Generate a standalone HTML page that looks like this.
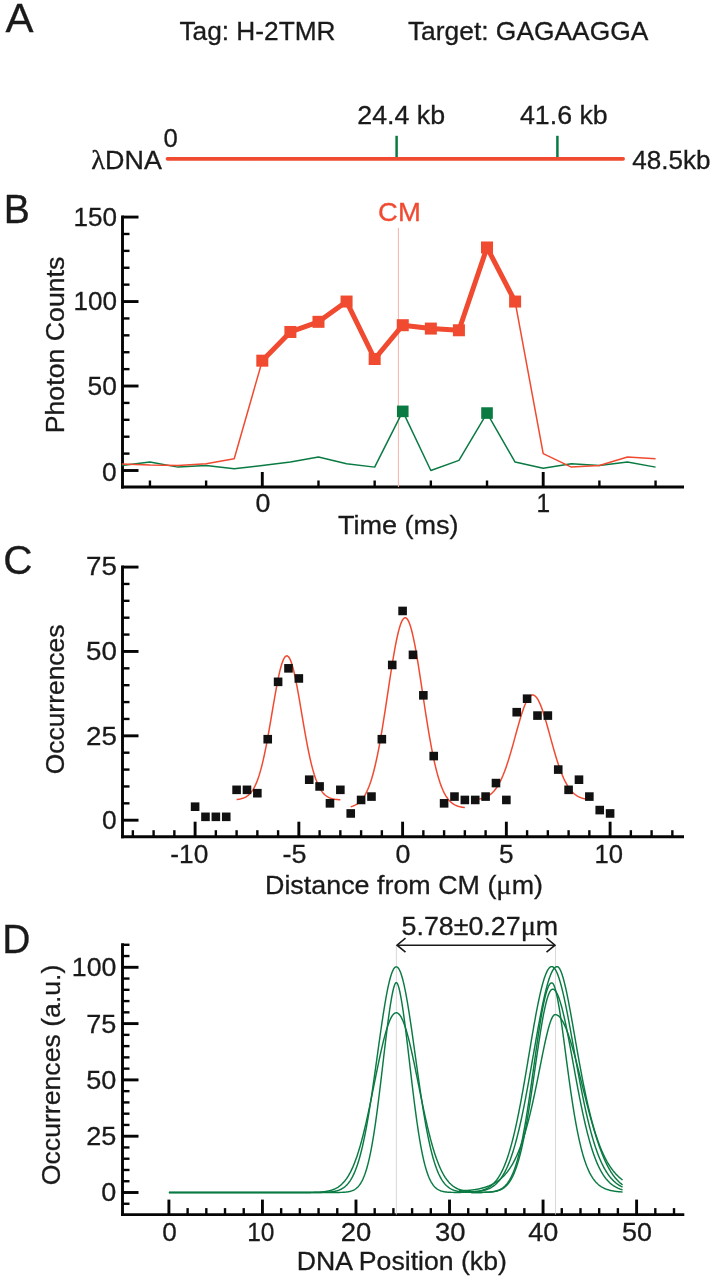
<!DOCTYPE html>
<html><head><meta charset="utf-8"><title>Figure</title>
<style>html,body{margin:0;padding:0;background:#fff}svg{display:block}</style></head>
<body>
<svg width="714" height="1280" viewBox="0 0 714 1280" font-family='"Liberation Sans", Arial, Helvetica, sans-serif'>
<rect width="714" height="1280" fill="#fff"/>
<line x1="167.50" y1="158.80" x2="623.10" y2="158.80" stroke="#F04A30" stroke-width="3.7" stroke-linecap="round"/>
<line x1="396.60" y1="135.80" x2="396.60" y2="157.00" stroke="#0A7A43" stroke-width="2.5" stroke-linecap="butt"/>
<line x1="557.40" y1="135.80" x2="557.40" y2="157.00" stroke="#0A7A43" stroke-width="2.5" stroke-linecap="butt"/>
<line x1="122.50" y1="215.62" x2="122.50" y2="488.45" stroke="#050505" stroke-width="2.9" stroke-linecap="butt"/>
<line x1="121.05" y1="487.00" x2="684.00" y2="487.00" stroke="#050505" stroke-width="2.9" stroke-linecap="butt"/>
<line x1="122.50" y1="470.50" x2="138.50" y2="470.50" stroke="#050505" stroke-width="2.9" stroke-linecap="butt"/>
<line x1="122.50" y1="453.61" x2="129.50" y2="453.61" stroke="#050505" stroke-width="2.4" stroke-linecap="butt"/>
<line x1="122.50" y1="436.71" x2="129.50" y2="436.71" stroke="#050505" stroke-width="2.4" stroke-linecap="butt"/>
<line x1="122.50" y1="419.81" x2="129.50" y2="419.81" stroke="#050505" stroke-width="2.4" stroke-linecap="butt"/>
<line x1="122.50" y1="402.92" x2="129.50" y2="402.92" stroke="#050505" stroke-width="2.4" stroke-linecap="butt"/>
<line x1="122.50" y1="386.02" x2="138.50" y2="386.02" stroke="#050505" stroke-width="2.9" stroke-linecap="butt"/>
<line x1="122.50" y1="369.13" x2="129.50" y2="369.13" stroke="#050505" stroke-width="2.4" stroke-linecap="butt"/>
<line x1="122.50" y1="352.24" x2="129.50" y2="352.24" stroke="#050505" stroke-width="2.4" stroke-linecap="butt"/>
<line x1="122.50" y1="335.34" x2="129.50" y2="335.34" stroke="#050505" stroke-width="2.4" stroke-linecap="butt"/>
<line x1="122.50" y1="318.44" x2="129.50" y2="318.44" stroke="#050505" stroke-width="2.4" stroke-linecap="butt"/>
<line x1="122.50" y1="301.55" x2="138.50" y2="301.55" stroke="#050505" stroke-width="2.9" stroke-linecap="butt"/>
<line x1="122.50" y1="284.65" x2="129.50" y2="284.65" stroke="#050505" stroke-width="2.4" stroke-linecap="butt"/>
<line x1="122.50" y1="267.76" x2="129.50" y2="267.76" stroke="#050505" stroke-width="2.4" stroke-linecap="butt"/>
<line x1="122.50" y1="250.87" x2="129.50" y2="250.87" stroke="#050505" stroke-width="2.4" stroke-linecap="butt"/>
<line x1="122.50" y1="233.97" x2="129.50" y2="233.97" stroke="#050505" stroke-width="2.4" stroke-linecap="butt"/>
<line x1="122.50" y1="217.07" x2="138.50" y2="217.07" stroke="#050505" stroke-width="2.9" stroke-linecap="butt"/>
<line x1="149.94" y1="487.00" x2="149.94" y2="480.50" stroke="#050505" stroke-width="2.4" stroke-linecap="butt"/>
<line x1="206.12" y1="487.00" x2="206.12" y2="480.50" stroke="#050505" stroke-width="2.4" stroke-linecap="butt"/>
<line x1="262.30" y1="487.00" x2="262.30" y2="472.00" stroke="#050505" stroke-width="2.9" stroke-linecap="butt"/>
<line x1="318.48" y1="487.00" x2="318.48" y2="480.50" stroke="#050505" stroke-width="2.4" stroke-linecap="butt"/>
<line x1="374.66" y1="487.00" x2="374.66" y2="480.50" stroke="#050505" stroke-width="2.4" stroke-linecap="butt"/>
<line x1="430.84" y1="487.00" x2="430.84" y2="480.50" stroke="#050505" stroke-width="2.4" stroke-linecap="butt"/>
<line x1="487.02" y1="487.00" x2="487.02" y2="480.50" stroke="#050505" stroke-width="2.4" stroke-linecap="butt"/>
<line x1="543.20" y1="487.00" x2="543.20" y2="472.00" stroke="#050505" stroke-width="2.9" stroke-linecap="butt"/>
<line x1="599.38" y1="487.00" x2="599.38" y2="480.50" stroke="#050505" stroke-width="2.4" stroke-linecap="butt"/>
<line x1="655.56" y1="487.00" x2="655.56" y2="480.50" stroke="#050505" stroke-width="2.4" stroke-linecap="butt"/>
<line x1="398.40" y1="227.80" x2="398.40" y2="487.00" stroke="#F6B5A8" stroke-width="1.0" stroke-linecap="butt"/>
<path d="M121.85,465.43 L149.94,462.05 L178.03,467.12 L206.12,465.43 L234.21,468.81 L262.30,465.43 L290.39,462.05 L318.48,456.98 L346.57,463.74 L374.66,467.12 L402.75,411.37 L430.84,470.50 L458.93,460.36 L487.02,413.06 L515.11,462.05 L543.20,468.30 L571.29,463.74 L599.38,465.43 L627.47,462.05 L655.56,467.12" fill="none" stroke="#0A7A43" stroke-width="1.5" stroke-linejoin="round" />
<path d="M121.85,463.91 L149.94,465.09 L178.03,465.43 L206.12,463.74 L234.21,458.67 L262.30,360.68 L290.39,331.96 L318.48,321.82 L346.57,301.55 L374.66,358.99 L402.75,325.20 L430.84,328.58 L458.93,330.27 L487.02,247.49 L515.11,301.55 L543.20,453.61 L571.29,467.12 L599.38,465.43 L627.47,456.98 L655.56,458.67" fill="none" stroke="#F04A30" stroke-width="1.5" stroke-linejoin="round" />
<path d="M262.30,360.68 L290.39,331.96 L318.48,321.82 L346.57,301.55 L374.66,358.99 L402.75,325.20 L430.84,328.58 L458.93,330.27 L487.02,247.49 L515.11,301.55" fill="none" stroke="#F04A30" stroke-width="5" stroke-linejoin="round" />
<rect x="256.30" y="354.68" width="12" height="12" fill="#F04A30"/>
<rect x="284.39" y="325.96" width="12" height="12" fill="#F04A30"/>
<rect x="312.48" y="315.82" width="12" height="12" fill="#F04A30"/>
<rect x="340.57" y="295.55" width="12" height="12" fill="#F04A30"/>
<rect x="368.66" y="352.99" width="12" height="12" fill="#F04A30"/>
<rect x="396.75" y="319.20" width="12" height="12" fill="#F04A30"/>
<rect x="424.84" y="322.58" width="12" height="12" fill="#F04A30"/>
<rect x="452.93" y="324.27" width="12" height="12" fill="#F04A30"/>
<rect x="481.02" y="241.49" width="12" height="12" fill="#F04A30"/>
<rect x="509.11" y="295.55" width="12" height="12" fill="#F04A30"/>
<rect x="396.95" y="405.57" width="11.6" height="11.6" fill="#0A7A43"/>
<rect x="481.22" y="407.26" width="11.6" height="11.6" fill="#0A7A43"/>
<line x1="122.50" y1="565.62" x2="122.50" y2="838.15" stroke="#050505" stroke-width="2.9" stroke-linecap="butt"/>
<line x1="121.05" y1="836.70" x2="684.00" y2="836.70" stroke="#050505" stroke-width="2.9" stroke-linecap="butt"/>
<line x1="122.50" y1="820.20" x2="138.50" y2="820.20" stroke="#050505" stroke-width="2.9" stroke-linecap="butt"/>
<line x1="122.50" y1="803.33" x2="129.50" y2="803.33" stroke="#050505" stroke-width="2.4" stroke-linecap="butt"/>
<line x1="122.50" y1="786.45" x2="129.50" y2="786.45" stroke="#050505" stroke-width="2.4" stroke-linecap="butt"/>
<line x1="122.50" y1="769.58" x2="129.50" y2="769.58" stroke="#050505" stroke-width="2.4" stroke-linecap="butt"/>
<line x1="122.50" y1="752.70" x2="129.50" y2="752.70" stroke="#050505" stroke-width="2.4" stroke-linecap="butt"/>
<line x1="122.50" y1="735.83" x2="138.50" y2="735.83" stroke="#050505" stroke-width="2.9" stroke-linecap="butt"/>
<line x1="122.50" y1="718.95" x2="129.50" y2="718.95" stroke="#050505" stroke-width="2.4" stroke-linecap="butt"/>
<line x1="122.50" y1="702.08" x2="129.50" y2="702.08" stroke="#050505" stroke-width="2.4" stroke-linecap="butt"/>
<line x1="122.50" y1="685.20" x2="129.50" y2="685.20" stroke="#050505" stroke-width="2.4" stroke-linecap="butt"/>
<line x1="122.50" y1="668.33" x2="129.50" y2="668.33" stroke="#050505" stroke-width="2.4" stroke-linecap="butt"/>
<line x1="122.50" y1="651.45" x2="138.50" y2="651.45" stroke="#050505" stroke-width="2.9" stroke-linecap="butt"/>
<line x1="122.50" y1="634.58" x2="129.50" y2="634.58" stroke="#050505" stroke-width="2.4" stroke-linecap="butt"/>
<line x1="122.50" y1="617.70" x2="129.50" y2="617.70" stroke="#050505" stroke-width="2.4" stroke-linecap="butt"/>
<line x1="122.50" y1="600.83" x2="129.50" y2="600.83" stroke="#050505" stroke-width="2.4" stroke-linecap="butt"/>
<line x1="122.50" y1="583.95" x2="129.50" y2="583.95" stroke="#050505" stroke-width="2.4" stroke-linecap="butt"/>
<line x1="122.50" y1="567.08" x2="138.50" y2="567.08" stroke="#050505" stroke-width="2.9" stroke-linecap="butt"/>
<line x1="132.85" y1="836.70" x2="132.85" y2="830.20" stroke="#050505" stroke-width="2.4" stroke-linecap="butt"/>
<line x1="153.60" y1="836.70" x2="153.60" y2="830.20" stroke="#050505" stroke-width="2.4" stroke-linecap="butt"/>
<line x1="174.35" y1="836.70" x2="174.35" y2="830.20" stroke="#050505" stroke-width="2.4" stroke-linecap="butt"/>
<line x1="195.10" y1="836.70" x2="195.10" y2="821.70" stroke="#050505" stroke-width="2.9" stroke-linecap="butt"/>
<line x1="215.85" y1="836.70" x2="215.85" y2="830.20" stroke="#050505" stroke-width="2.4" stroke-linecap="butt"/>
<line x1="236.60" y1="836.70" x2="236.60" y2="830.20" stroke="#050505" stroke-width="2.4" stroke-linecap="butt"/>
<line x1="257.35" y1="836.70" x2="257.35" y2="830.20" stroke="#050505" stroke-width="2.4" stroke-linecap="butt"/>
<line x1="278.10" y1="836.70" x2="278.10" y2="830.20" stroke="#050505" stroke-width="2.4" stroke-linecap="butt"/>
<line x1="298.85" y1="836.70" x2="298.85" y2="821.70" stroke="#050505" stroke-width="2.9" stroke-linecap="butt"/>
<line x1="319.60" y1="836.70" x2="319.60" y2="830.20" stroke="#050505" stroke-width="2.4" stroke-linecap="butt"/>
<line x1="340.35" y1="836.70" x2="340.35" y2="830.20" stroke="#050505" stroke-width="2.4" stroke-linecap="butt"/>
<line x1="361.10" y1="836.70" x2="361.10" y2="830.20" stroke="#050505" stroke-width="2.4" stroke-linecap="butt"/>
<line x1="381.85" y1="836.70" x2="381.85" y2="830.20" stroke="#050505" stroke-width="2.4" stroke-linecap="butt"/>
<line x1="402.60" y1="836.70" x2="402.60" y2="821.70" stroke="#050505" stroke-width="2.9" stroke-linecap="butt"/>
<line x1="423.35" y1="836.70" x2="423.35" y2="830.20" stroke="#050505" stroke-width="2.4" stroke-linecap="butt"/>
<line x1="444.10" y1="836.70" x2="444.10" y2="830.20" stroke="#050505" stroke-width="2.4" stroke-linecap="butt"/>
<line x1="464.85" y1="836.70" x2="464.85" y2="830.20" stroke="#050505" stroke-width="2.4" stroke-linecap="butt"/>
<line x1="485.60" y1="836.70" x2="485.60" y2="830.20" stroke="#050505" stroke-width="2.4" stroke-linecap="butt"/>
<line x1="506.35" y1="836.70" x2="506.35" y2="821.70" stroke="#050505" stroke-width="2.9" stroke-linecap="butt"/>
<line x1="527.10" y1="836.70" x2="527.10" y2="830.20" stroke="#050505" stroke-width="2.4" stroke-linecap="butt"/>
<line x1="547.85" y1="836.70" x2="547.85" y2="830.20" stroke="#050505" stroke-width="2.4" stroke-linecap="butt"/>
<line x1="568.60" y1="836.70" x2="568.60" y2="830.20" stroke="#050505" stroke-width="2.4" stroke-linecap="butt"/>
<line x1="589.35" y1="836.70" x2="589.35" y2="830.20" stroke="#050505" stroke-width="2.4" stroke-linecap="butt"/>
<line x1="610.10" y1="836.70" x2="610.10" y2="821.70" stroke="#050505" stroke-width="2.9" stroke-linecap="butt"/>
<line x1="630.85" y1="836.70" x2="630.85" y2="830.20" stroke="#050505" stroke-width="2.4" stroke-linecap="butt"/>
<line x1="651.60" y1="836.70" x2="651.60" y2="830.20" stroke="#050505" stroke-width="2.4" stroke-linecap="butt"/>
<line x1="672.35" y1="836.70" x2="672.35" y2="830.20" stroke="#050505" stroke-width="2.4" stroke-linecap="butt"/>
<path d="M236.60,799.52 L237.46,799.42 L238.33,799.31 L239.19,799.17 L240.06,799.01 L240.92,798.82 L241.79,798.60 L242.65,798.34 L243.52,798.03 L244.38,797.67 L245.25,797.26 L246.11,796.78 L246.98,796.23 L247.84,795.60 L248.70,794.87 L249.57,794.05 L250.43,793.12 L251.30,792.07 L252.16,790.89 L253.03,789.56 L253.89,788.09 L254.76,786.45 L255.62,784.63 L256.49,782.64 L257.35,780.45 L258.21,778.06 L259.08,775.46 L259.94,772.64 L260.81,769.61 L261.67,766.35 L262.54,762.88 L263.40,759.19 L264.27,755.28 L265.13,751.16 L266.00,746.85 L266.86,742.36 L267.73,737.70 L268.59,732.90 L269.45,727.98 L270.32,722.96 L271.18,717.87 L272.05,712.75 L272.91,707.62 L273.78,702.53 L274.64,697.52 L275.51,692.61 L276.37,687.86 L277.24,683.30 L278.10,678.97 L278.96,674.91 L279.83,671.16 L280.69,667.76 L281.56,664.73 L282.42,662.10 L283.29,659.91 L284.15,658.17 L285.02,656.91 L285.88,656.13 L286.75,655.84 L287.61,656.05 L288.48,656.75 L289.34,657.94 L290.20,659.60 L291.07,661.72 L291.93,664.28 L292.80,667.24 L293.66,670.59 L294.53,674.29 L295.39,678.30 L296.26,682.59 L297.12,687.12 L297.99,691.84 L298.85,696.72 L299.71,701.72 L300.58,706.80 L301.44,711.93 L302.31,717.05 L303.17,722.15 L304.04,727.18 L304.90,732.12 L305.77,736.95 L306.63,741.63 L307.50,746.15 L308.36,750.49 L309.23,754.63 L310.09,758.57 L310.95,762.30 L311.82,765.81 L312.68,769.10 L313.55,772.17 L314.41,775.02 L315.28,777.65 L316.14,780.08 L317.01,782.30 L317.87,784.33 L318.74,786.17 L319.60,787.83 L320.46,789.34 L321.33,790.68 L322.19,791.89 L323.06,792.96 L323.92,793.91 L324.79,794.75 L325.65,795.49 L326.52,796.13 L327.38,796.70 L328.25,797.19 L329.11,797.61 L329.98,797.98 L330.84,798.29 L331.70,798.56 L332.57,798.79 L333.43,798.99 L334.30,799.15 L335.16,799.29 L336.03,799.41 L336.89,799.50 L337.76,799.58 L338.62,799.65 L339.49,799.71 L340.35,799.75" fill="none" stroke="#F04A30" stroke-width="1.5" stroke-linejoin="round" />
<path d="M350.73,806.67 L351.68,806.42 L352.63,806.12 L353.58,805.77 L354.53,805.38 L355.48,804.92 L356.43,804.39 L357.38,803.78 L358.33,803.10 L359.28,802.31 L360.24,801.43 L361.19,800.43 L362.14,799.30 L363.09,798.04 L364.04,796.64 L364.99,795.07 L365.94,793.34 L366.89,791.42 L367.84,789.31 L368.79,786.99 L369.75,784.46 L370.70,781.70 L371.65,778.71 L372.60,775.47 L373.55,771.99 L374.50,768.26 L375.45,764.27 L376.40,760.03 L377.35,755.54 L378.31,750.79 L379.26,745.81 L380.21,740.59 L381.16,735.16 L382.11,729.52 L383.06,723.71 L384.01,717.73 L384.96,711.62 L385.91,705.41 L386.86,699.13 L387.82,692.80 L388.77,686.48 L389.72,680.19 L390.67,673.99 L391.62,667.90 L392.57,661.98 L393.52,656.26 L394.47,650.79 L395.42,645.62 L396.38,640.77 L397.33,636.30 L398.28,632.25 L399.23,628.63 L400.18,625.49 L401.13,622.85 L402.08,620.74 L403.03,619.17 L403.98,618.16 L404.93,617.72 L405.89,617.85 L406.84,618.55 L407.79,619.82 L408.74,621.63 L409.69,623.99 L410.64,626.86 L411.59,630.22 L412.54,634.04 L413.49,638.29 L414.44,642.93 L415.40,647.93 L416.35,653.24 L417.30,658.83 L418.25,664.65 L419.20,670.65 L420.15,676.80 L421.10,683.04 L422.05,689.35 L423.00,695.68 L423.96,701.99 L424.91,708.25 L425.86,714.42 L426.81,720.47 L427.76,726.37 L428.71,732.11 L429.66,737.65 L430.61,742.99 L431.56,748.10 L432.51,752.98 L433.47,757.61 L434.42,761.99 L435.37,766.12 L436.32,769.99 L437.27,773.61 L438.22,776.97 L439.17,780.10 L440.12,782.98 L441.07,785.63 L442.03,788.07 L442.98,790.29 L443.93,792.31 L444.88,794.15 L445.83,795.80 L446.78,797.30 L447.73,798.63 L448.68,799.83 L449.63,800.90 L450.58,801.84 L451.54,802.68 L452.49,803.42 L453.44,804.07 L454.39,804.64 L455.34,805.13 L456.29,805.56 L457.24,805.94 L458.19,806.26 L459.14,806.54 L460.09,806.78 L461.05,806.98 L462.00,807.16 L462.95,807.30 L463.90,807.43 L464.85,807.54" fill="none" stroke="#F04A30" stroke-width="1.5" stroke-linejoin="round" />
<path d="M475.23,799.49 L476.18,799.40 L477.13,799.30 L478.08,799.18 L479.03,799.03 L479.98,798.87 L480.93,798.68 L481.88,798.45 L482.83,798.20 L483.78,797.91 L484.74,797.57 L485.69,797.19 L486.64,796.76 L487.59,796.27 L488.54,795.71 L489.49,795.09 L490.44,794.40 L491.39,793.62 L492.34,792.76 L493.29,791.80 L494.25,790.75 L495.20,789.58 L496.15,788.31 L497.10,786.92 L498.05,785.40 L499.00,783.76 L499.95,781.99 L500.90,780.08 L501.85,778.03 L502.81,775.84 L503.76,773.52 L504.71,771.05 L505.66,768.45 L506.61,765.72 L507.56,762.86 L508.51,759.89 L509.46,756.80 L510.41,753.61 L511.36,750.34 L512.32,746.99 L513.27,743.58 L514.22,740.14 L515.17,736.67 L516.12,733.19 L517.07,729.74 L518.02,726.33 L518.97,722.98 L519.92,719.72 L520.88,716.57 L521.83,713.56 L522.78,710.70 L523.73,708.02 L524.68,705.54 L525.63,703.28 L526.58,701.26 L527.53,699.51 L528.48,698.02 L529.43,696.82 L530.39,695.91 L531.34,695.31 L532.29,695.02 L533.24,695.04 L534.19,695.37 L535.14,696.01 L536.09,696.95 L537.04,698.19 L537.99,699.71 L538.94,701.51 L539.90,703.56 L540.85,705.84 L541.80,708.35 L542.75,711.05 L543.70,713.93 L544.65,716.97 L545.60,720.13 L546.55,723.41 L547.50,726.76 L548.46,730.18 L549.41,733.64 L550.36,737.11 L551.31,740.58 L552.26,744.02 L553.21,747.42 L554.16,750.76 L555.11,754.02 L556.06,757.20 L557.01,760.27 L557.97,763.23 L558.92,766.08 L559.87,768.79 L560.82,771.37 L561.77,773.82 L562.72,776.13 L563.67,778.30 L564.62,780.33 L565.57,782.22 L566.53,783.98 L567.48,785.60 L568.43,787.10 L569.38,788.48 L570.33,789.74 L571.28,790.89 L572.23,791.93 L573.18,792.87 L574.13,793.72 L575.08,794.49 L576.04,795.18 L576.99,795.79 L577.94,796.33 L578.89,796.81 L579.84,797.24 L580.79,797.62 L581.74,797.94 L582.69,798.23 L583.64,798.48 L584.59,798.70 L585.55,798.89 L586.50,799.05 L587.45,799.19 L588.40,799.31 L589.35,799.42" fill="none" stroke="#F04A30" stroke-width="1.5" stroke-linejoin="round" />
<rect x="190.80" y="802.40" width="8.6" height="8.6" fill="#111"/>
<rect x="201.18" y="812.53" width="8.6" height="8.6" fill="#111"/>
<rect x="211.55" y="812.53" width="8.6" height="8.6" fill="#111"/>
<rect x="221.93" y="812.53" width="8.6" height="8.6" fill="#111"/>
<rect x="232.30" y="785.53" width="8.6" height="8.6" fill="#111"/>
<rect x="242.68" y="785.53" width="8.6" height="8.6" fill="#111"/>
<rect x="253.05" y="788.90" width="8.6" height="8.6" fill="#111"/>
<rect x="263.43" y="734.90" width="8.6" height="8.6" fill="#111"/>
<rect x="273.80" y="677.53" width="8.6" height="8.6" fill="#111"/>
<rect x="284.18" y="664.03" width="8.6" height="8.6" fill="#111"/>
<rect x="294.55" y="674.15" width="8.6" height="8.6" fill="#111"/>
<rect x="304.93" y="775.40" width="8.6" height="8.6" fill="#111"/>
<rect x="315.30" y="782.15" width="8.6" height="8.6" fill="#111"/>
<rect x="325.68" y="799.03" width="8.6" height="8.6" fill="#111"/>
<rect x="336.05" y="785.53" width="8.6" height="8.6" fill="#111"/>
<rect x="346.43" y="809.15" width="8.6" height="8.6" fill="#111"/>
<rect x="356.80" y="795.65" width="8.6" height="8.6" fill="#111"/>
<rect x="367.18" y="792.28" width="8.6" height="8.6" fill="#111"/>
<rect x="377.55" y="734.90" width="8.6" height="8.6" fill="#111"/>
<rect x="387.93" y="660.65" width="8.6" height="8.6" fill="#111"/>
<rect x="398.30" y="606.65" width="8.6" height="8.6" fill="#111"/>
<rect x="408.68" y="650.53" width="8.6" height="8.6" fill="#111"/>
<rect x="419.05" y="691.03" width="8.6" height="8.6" fill="#111"/>
<rect x="429.43" y="751.78" width="8.6" height="8.6" fill="#111"/>
<rect x="439.80" y="799.03" width="8.6" height="8.6" fill="#111"/>
<rect x="450.18" y="792.28" width="8.6" height="8.6" fill="#111"/>
<rect x="460.55" y="795.65" width="8.6" height="8.6" fill="#111"/>
<rect x="470.93" y="795.65" width="8.6" height="8.6" fill="#111"/>
<rect x="481.30" y="792.28" width="8.6" height="8.6" fill="#111"/>
<rect x="491.68" y="778.78" width="8.6" height="8.6" fill="#111"/>
<rect x="502.05" y="795.65" width="8.6" height="8.6" fill="#111"/>
<rect x="512.43" y="707.90" width="8.6" height="8.6" fill="#111"/>
<rect x="522.80" y="694.40" width="8.6" height="8.6" fill="#111"/>
<rect x="533.18" y="711.28" width="8.6" height="8.6" fill="#111"/>
<rect x="543.55" y="711.28" width="8.6" height="8.6" fill="#111"/>
<rect x="553.93" y="765.28" width="8.6" height="8.6" fill="#111"/>
<rect x="564.30" y="785.53" width="8.6" height="8.6" fill="#111"/>
<rect x="574.68" y="775.40" width="8.6" height="8.6" fill="#111"/>
<rect x="585.05" y="792.28" width="8.6" height="8.6" fill="#111"/>
<rect x="595.43" y="805.78" width="8.6" height="8.6" fill="#111"/>
<rect x="605.80" y="809.15" width="8.6" height="8.6" fill="#111"/>
<line x1="122.50" y1="943.33" x2="122.50" y2="1216.05" stroke="#050505" stroke-width="2.9" stroke-linecap="butt"/>
<line x1="121.05" y1="1214.60" x2="684.30" y2="1214.60" stroke="#050505" stroke-width="2.9" stroke-linecap="butt"/>
<line x1="122.50" y1="1203.76" x2="129.50" y2="1203.76" stroke="#050505" stroke-width="2.4" stroke-linecap="butt"/>
<line x1="122.50" y1="1192.50" x2="138.50" y2="1192.50" stroke="#050505" stroke-width="2.9" stroke-linecap="butt"/>
<line x1="122.50" y1="1181.24" x2="129.50" y2="1181.24" stroke="#050505" stroke-width="2.4" stroke-linecap="butt"/>
<line x1="122.50" y1="1169.98" x2="129.50" y2="1169.98" stroke="#050505" stroke-width="2.4" stroke-linecap="butt"/>
<line x1="122.50" y1="1158.72" x2="129.50" y2="1158.72" stroke="#050505" stroke-width="2.4" stroke-linecap="butt"/>
<line x1="122.50" y1="1147.46" x2="129.50" y2="1147.46" stroke="#050505" stroke-width="2.4" stroke-linecap="butt"/>
<line x1="122.50" y1="1136.20" x2="138.50" y2="1136.20" stroke="#050505" stroke-width="2.9" stroke-linecap="butt"/>
<line x1="122.50" y1="1124.94" x2="129.50" y2="1124.94" stroke="#050505" stroke-width="2.4" stroke-linecap="butt"/>
<line x1="122.50" y1="1113.68" x2="129.50" y2="1113.68" stroke="#050505" stroke-width="2.4" stroke-linecap="butt"/>
<line x1="122.50" y1="1102.42" x2="129.50" y2="1102.42" stroke="#050505" stroke-width="2.4" stroke-linecap="butt"/>
<line x1="122.50" y1="1091.16" x2="129.50" y2="1091.16" stroke="#050505" stroke-width="2.4" stroke-linecap="butt"/>
<line x1="122.50" y1="1079.90" x2="138.50" y2="1079.90" stroke="#050505" stroke-width="2.9" stroke-linecap="butt"/>
<line x1="122.50" y1="1068.64" x2="129.50" y2="1068.64" stroke="#050505" stroke-width="2.4" stroke-linecap="butt"/>
<line x1="122.50" y1="1057.38" x2="129.50" y2="1057.38" stroke="#050505" stroke-width="2.4" stroke-linecap="butt"/>
<line x1="122.50" y1="1046.12" x2="129.50" y2="1046.12" stroke="#050505" stroke-width="2.4" stroke-linecap="butt"/>
<line x1="122.50" y1="1034.86" x2="129.50" y2="1034.86" stroke="#050505" stroke-width="2.4" stroke-linecap="butt"/>
<line x1="122.50" y1="1023.60" x2="138.50" y2="1023.60" stroke="#050505" stroke-width="2.9" stroke-linecap="butt"/>
<line x1="122.50" y1="1012.34" x2="129.50" y2="1012.34" stroke="#050505" stroke-width="2.4" stroke-linecap="butt"/>
<line x1="122.50" y1="1001.08" x2="129.50" y2="1001.08" stroke="#050505" stroke-width="2.4" stroke-linecap="butt"/>
<line x1="122.50" y1="989.82" x2="129.50" y2="989.82" stroke="#050505" stroke-width="2.4" stroke-linecap="butt"/>
<line x1="122.50" y1="978.56" x2="129.50" y2="978.56" stroke="#050505" stroke-width="2.4" stroke-linecap="butt"/>
<line x1="122.50" y1="967.30" x2="138.50" y2="967.30" stroke="#050505" stroke-width="2.9" stroke-linecap="butt"/>
<line x1="122.50" y1="956.04" x2="129.50" y2="956.04" stroke="#050505" stroke-width="2.4" stroke-linecap="butt"/>
<line x1="122.50" y1="944.78" x2="129.50" y2="944.78" stroke="#050505" stroke-width="2.4" stroke-linecap="butt"/>
<line x1="168.90" y1="1214.60" x2="168.90" y2="1199.60" stroke="#050505" stroke-width="2.9" stroke-linecap="butt"/>
<line x1="187.61" y1="1214.60" x2="187.61" y2="1208.10" stroke="#050505" stroke-width="2.4" stroke-linecap="butt"/>
<line x1="206.32" y1="1214.60" x2="206.32" y2="1208.10" stroke="#050505" stroke-width="2.4" stroke-linecap="butt"/>
<line x1="225.02" y1="1214.60" x2="225.02" y2="1208.10" stroke="#050505" stroke-width="2.4" stroke-linecap="butt"/>
<line x1="243.73" y1="1214.60" x2="243.73" y2="1208.10" stroke="#050505" stroke-width="2.4" stroke-linecap="butt"/>
<line x1="262.44" y1="1214.60" x2="262.44" y2="1199.60" stroke="#050505" stroke-width="2.9" stroke-linecap="butt"/>
<line x1="281.15" y1="1214.60" x2="281.15" y2="1208.10" stroke="#050505" stroke-width="2.4" stroke-linecap="butt"/>
<line x1="299.86" y1="1214.60" x2="299.86" y2="1208.10" stroke="#050505" stroke-width="2.4" stroke-linecap="butt"/>
<line x1="318.56" y1="1214.60" x2="318.56" y2="1208.10" stroke="#050505" stroke-width="2.4" stroke-linecap="butt"/>
<line x1="337.27" y1="1214.60" x2="337.27" y2="1208.10" stroke="#050505" stroke-width="2.4" stroke-linecap="butt"/>
<line x1="355.98" y1="1214.60" x2="355.98" y2="1199.60" stroke="#050505" stroke-width="2.9" stroke-linecap="butt"/>
<line x1="374.69" y1="1214.60" x2="374.69" y2="1208.10" stroke="#050505" stroke-width="2.4" stroke-linecap="butt"/>
<line x1="393.40" y1="1214.60" x2="393.40" y2="1208.10" stroke="#050505" stroke-width="2.4" stroke-linecap="butt"/>
<line x1="412.10" y1="1214.60" x2="412.10" y2="1208.10" stroke="#050505" stroke-width="2.4" stroke-linecap="butt"/>
<line x1="430.81" y1="1214.60" x2="430.81" y2="1208.10" stroke="#050505" stroke-width="2.4" stroke-linecap="butt"/>
<line x1="449.52" y1="1214.60" x2="449.52" y2="1199.60" stroke="#050505" stroke-width="2.9" stroke-linecap="butt"/>
<line x1="468.23" y1="1214.60" x2="468.23" y2="1208.10" stroke="#050505" stroke-width="2.4" stroke-linecap="butt"/>
<line x1="486.94" y1="1214.60" x2="486.94" y2="1208.10" stroke="#050505" stroke-width="2.4" stroke-linecap="butt"/>
<line x1="505.64" y1="1214.60" x2="505.64" y2="1208.10" stroke="#050505" stroke-width="2.4" stroke-linecap="butt"/>
<line x1="524.35" y1="1214.60" x2="524.35" y2="1208.10" stroke="#050505" stroke-width="2.4" stroke-linecap="butt"/>
<line x1="543.06" y1="1214.60" x2="543.06" y2="1199.60" stroke="#050505" stroke-width="2.9" stroke-linecap="butt"/>
<line x1="561.77" y1="1214.60" x2="561.77" y2="1208.10" stroke="#050505" stroke-width="2.4" stroke-linecap="butt"/>
<line x1="580.48" y1="1214.60" x2="580.48" y2="1208.10" stroke="#050505" stroke-width="2.4" stroke-linecap="butt"/>
<line x1="599.18" y1="1214.60" x2="599.18" y2="1208.10" stroke="#050505" stroke-width="2.4" stroke-linecap="butt"/>
<line x1="617.89" y1="1214.60" x2="617.89" y2="1208.10" stroke="#050505" stroke-width="2.4" stroke-linecap="butt"/>
<line x1="636.60" y1="1214.60" x2="636.60" y2="1199.60" stroke="#050505" stroke-width="2.9" stroke-linecap="butt"/>
<line x1="655.31" y1="1214.60" x2="655.31" y2="1208.10" stroke="#050505" stroke-width="2.4" stroke-linecap="butt"/>
<line x1="674.02" y1="1214.60" x2="674.02" y2="1208.10" stroke="#050505" stroke-width="2.4" stroke-linecap="butt"/>
<line x1="396.40" y1="945.00" x2="396.40" y2="1214.60" stroke="#cfcfcf" stroke-width="0.8" stroke-linecap="butt"/>
<line x1="555.50" y1="945.00" x2="555.50" y2="1214.60" stroke="#cfcfcf" stroke-width="0.8" stroke-linecap="butt"/>
<line x1="397.50" y1="945.20" x2="554.50" y2="945.20" stroke="#1a1a1a" stroke-width="1.6" stroke-linecap="butt"/>
<path d="M405.5,938.2 L397,945.2 L405.5,952.2" fill="none" stroke="#1a1a1a" stroke-width="1.6"/>
<path d="M546.5,938.2 L555,945.2 L546.5,952.2" fill="none" stroke="#1a1a1a" stroke-width="1.6"/>
<path d="M168.90,1192.50 L169.37,1192.50 L169.84,1192.50 L170.30,1192.50 L170.77,1192.50 L171.24,1192.50 L171.71,1192.50 L172.17,1192.50 L172.64,1192.50 L173.11,1192.50 L173.58,1192.50 L174.04,1192.50 L174.51,1192.50 L174.98,1192.50 L175.45,1192.50 L175.92,1192.50 L176.38,1192.50 L176.85,1192.50 L177.32,1192.50 L177.79,1192.50 L178.25,1192.50 L178.72,1192.50 L179.19,1192.50 L179.66,1192.50 L180.12,1192.50 L180.59,1192.50 L181.06,1192.50 L181.53,1192.50 L182.00,1192.50 L182.46,1192.50 L182.93,1192.50 L183.40,1192.50 L183.87,1192.50 L184.33,1192.50 L184.80,1192.50 L185.27,1192.50 L185.74,1192.50 L186.20,1192.50 L186.67,1192.50 L187.14,1192.50 L187.61,1192.50 L188.08,1192.50 L188.54,1192.50 L189.01,1192.50 L189.48,1192.50 L189.95,1192.50 L190.41,1192.50 L190.88,1192.50 L191.35,1192.50 L191.82,1192.50 L192.28,1192.50 L192.75,1192.50 L193.22,1192.50 L193.69,1192.50 L194.16,1192.50 L194.62,1192.50 L195.09,1192.50 L195.56,1192.50 L196.03,1192.50 L196.49,1192.50 L196.96,1192.50 L197.43,1192.50 L197.90,1192.50 L198.37,1192.50 L198.83,1192.50 L199.30,1192.50 L199.77,1192.50 L200.24,1192.50 L200.70,1192.50 L201.17,1192.50 L201.64,1192.50 L202.11,1192.50 L202.57,1192.50 L203.04,1192.50 L203.51,1192.50 L203.98,1192.50 L204.45,1192.50 L204.91,1192.50 L205.38,1192.50 L205.85,1192.50 L206.32,1192.50 L206.78,1192.50 L207.25,1192.50 L207.72,1192.50 L208.19,1192.50 L208.65,1192.50 L209.12,1192.50 L209.59,1192.50 L210.06,1192.50 L210.53,1192.50 L210.99,1192.50 L211.46,1192.50 L211.93,1192.50 L212.40,1192.50 L212.86,1192.50 L213.33,1192.50 L213.80,1192.50 L214.27,1192.50 L214.73,1192.50 L215.20,1192.50 L215.67,1192.50 L216.14,1192.50 L216.61,1192.50 L217.07,1192.50 L217.54,1192.50 L218.01,1192.50 L218.48,1192.50 L218.94,1192.50 L219.41,1192.50 L219.88,1192.50 L220.35,1192.50 L220.81,1192.50 L221.28,1192.50 L221.75,1192.50 L222.22,1192.50 L222.69,1192.50 L223.15,1192.50 L223.62,1192.50 L224.09,1192.50 L224.56,1192.50 L225.02,1192.50 L225.49,1192.50 L225.96,1192.50 L226.43,1192.50 L226.89,1192.50 L227.36,1192.50 L227.83,1192.50 L228.30,1192.50 L228.77,1192.50 L229.23,1192.50 L229.70,1192.50 L230.17,1192.50 L230.64,1192.50 L231.10,1192.50 L231.57,1192.50 L232.04,1192.50 L232.51,1192.50 L232.97,1192.50 L233.44,1192.50 L233.91,1192.50 L234.38,1192.50 L234.85,1192.50 L235.31,1192.50 L235.78,1192.50 L236.25,1192.50 L236.72,1192.50 L237.18,1192.50 L237.65,1192.50 L238.12,1192.50 L238.59,1192.50 L239.06,1192.50 L239.52,1192.50 L239.99,1192.50 L240.46,1192.50 L240.93,1192.50 L241.39,1192.50 L241.86,1192.50 L242.33,1192.50 L242.80,1192.50 L243.26,1192.50 L243.73,1192.50 L244.20,1192.50 L244.67,1192.50 L245.14,1192.50 L245.60,1192.50 L246.07,1192.50 L246.54,1192.50 L247.01,1192.50 L247.47,1192.50 L247.94,1192.50 L248.41,1192.50 L248.88,1192.50 L249.34,1192.50 L249.81,1192.50 L250.28,1192.50 L250.75,1192.50 L251.22,1192.50 L251.68,1192.50 L252.15,1192.50 L252.62,1192.50 L253.09,1192.50 L253.55,1192.50 L254.02,1192.50 L254.49,1192.50 L254.96,1192.50 L255.42,1192.50 L255.89,1192.50 L256.36,1192.50 L256.83,1192.50 L257.30,1192.50 L257.76,1192.50 L258.23,1192.50 L258.70,1192.50 L259.17,1192.50 L259.63,1192.50 L260.10,1192.50 L260.57,1192.50 L261.04,1192.50 L261.50,1192.50 L261.97,1192.50 L262.44,1192.50 L262.91,1192.50 L263.38,1192.50 L263.84,1192.50 L264.31,1192.50 L264.78,1192.50 L265.25,1192.50 L265.71,1192.50 L266.18,1192.50 L266.65,1192.50 L267.12,1192.50 L267.58,1192.50 L268.05,1192.50 L268.52,1192.50 L268.99,1192.50 L269.46,1192.50 L269.92,1192.50 L270.39,1192.50 L270.86,1192.50 L271.33,1192.50 L271.79,1192.50 L272.26,1192.50 L272.73,1192.50 L273.20,1192.50 L273.66,1192.50 L274.13,1192.50 L274.60,1192.50 L275.07,1192.50 L275.54,1192.50 L276.00,1192.50 L276.47,1192.50 L276.94,1192.50 L277.41,1192.50 L277.87,1192.50 L278.34,1192.50 L278.81,1192.50 L279.28,1192.50 L279.74,1192.50 L280.21,1192.50 L280.68,1192.50 L281.15,1192.50 L281.62,1192.50 L282.08,1192.50 L282.55,1192.50 L283.02,1192.50 L283.49,1192.50 L283.95,1192.50 L284.42,1192.50 L284.89,1192.50 L285.36,1192.50 L285.82,1192.50 L286.29,1192.50 L286.76,1192.50 L287.23,1192.50 L287.70,1192.50 L288.16,1192.50 L288.63,1192.50 L289.10,1192.50 L289.57,1192.50 L290.03,1192.50 L290.50,1192.50 L290.97,1192.50 L291.44,1192.50 L291.91,1192.50 L292.37,1192.50 L292.84,1192.50 L293.31,1192.50 L293.78,1192.50 L294.24,1192.50 L294.71,1192.50 L295.18,1192.50 L295.65,1192.50 L296.11,1192.50 L296.58,1192.50 L297.05,1192.50 L297.52,1192.50 L297.99,1192.50 L298.45,1192.50 L298.92,1192.50 L299.39,1192.50 L299.86,1192.50 L300.32,1192.50 L300.79,1192.50 L301.26,1192.50 L301.73,1192.50 L302.19,1192.50 L302.66,1192.50 L303.13,1192.50 L303.60,1192.50 L304.07,1192.50 L304.53,1192.50 L305.00,1192.50 L305.47,1192.50 L305.94,1192.50 L306.40,1192.50 L306.87,1192.50 L307.34,1192.50 L307.81,1192.50 L308.27,1192.50 L308.74,1192.49 L309.21,1192.49 L309.68,1192.49 L310.15,1192.49 L310.61,1192.49 L311.08,1192.49 L311.55,1192.49 L312.02,1192.49 L312.48,1192.49 L312.95,1192.49 L313.42,1192.48 L313.89,1192.48 L314.35,1192.48 L314.82,1192.48 L315.29,1192.47 L315.76,1192.47 L316.23,1192.47 L316.69,1192.47 L317.16,1192.46 L317.63,1192.46 L318.10,1192.45 L318.56,1192.45 L319.03,1192.44 L319.50,1192.44 L319.97,1192.43 L320.43,1192.42 L320.90,1192.41 L321.37,1192.41 L321.84,1192.40 L322.31,1192.39 L322.77,1192.37 L323.24,1192.36 L323.71,1192.35 L324.18,1192.33 L324.64,1192.32 L325.11,1192.30 L325.58,1192.28 L326.05,1192.26 L326.51,1192.24 L326.98,1192.21 L327.45,1192.18 L327.92,1192.16 L328.39,1192.12 L328.85,1192.09 L329.32,1192.05 L329.79,1192.01 L330.26,1191.97 L330.72,1191.92 L331.19,1191.87 L331.66,1191.81 L332.13,1191.75 L332.60,1191.69 L333.06,1191.62 L333.53,1191.54 L334.00,1191.46 L334.47,1191.38 L334.93,1191.28 L335.40,1191.18 L335.87,1191.07 L336.34,1190.96 L336.80,1190.83 L337.27,1190.70 L337.74,1190.56 L338.21,1190.40 L338.68,1190.24 L339.14,1190.07 L339.61,1189.88 L340.08,1189.68 L340.55,1189.47 L341.01,1189.24 L341.48,1189.00 L341.95,1188.74 L342.42,1188.47 L342.88,1188.18 L343.35,1187.87 L343.82,1187.55 L344.29,1187.20 L344.76,1186.83 L345.22,1186.44 L345.69,1186.03 L346.16,1185.59 L346.63,1185.13 L347.09,1184.64 L347.56,1184.12 L348.03,1183.58 L348.50,1183.01 L348.96,1182.40 L349.43,1181.76 L349.90,1181.10 L350.37,1180.39 L350.84,1179.65 L351.30,1178.88 L351.77,1178.06 L352.24,1177.21 L352.71,1176.31 L353.17,1175.38 L353.64,1174.40 L354.11,1173.37 L354.58,1172.30 L355.04,1171.19 L355.51,1170.02 L355.98,1168.81 L356.45,1167.54 L356.92,1166.23 L357.38,1164.86 L357.85,1163.44 L358.32,1161.96 L358.79,1160.43 L359.25,1158.84 L359.72,1157.19 L360.19,1155.49 L360.66,1153.73 L361.12,1151.91 L361.59,1150.02 L362.06,1148.08 L362.53,1146.08 L363.00,1144.01 L363.46,1141.89 L363.93,1139.70 L364.40,1137.46 L364.87,1135.15 L365.33,1132.78 L365.80,1130.35 L366.27,1127.86 L366.74,1125.32 L367.20,1122.71 L367.67,1120.05 L368.14,1117.33 L368.61,1114.56 L369.08,1111.74 L369.54,1108.86 L370.01,1105.93 L370.48,1102.96 L370.95,1099.94 L371.41,1096.87 L371.88,1093.76 L372.35,1090.62 L372.82,1087.44 L373.28,1084.22 L373.75,1080.97 L374.22,1077.70 L374.69,1074.40 L375.16,1071.08 L375.62,1067.74 L376.09,1064.39 L376.56,1061.03 L377.03,1057.66 L377.49,1054.29 L377.96,1050.92 L378.43,1047.56 L378.90,1044.20 L379.37,1040.86 L379.83,1037.54 L380.30,1034.25 L380.77,1030.98 L381.24,1027.74 L381.70,1024.54 L382.17,1021.38 L382.64,1018.27 L383.11,1015.21 L383.57,1012.21 L384.04,1009.27 L384.51,1006.39 L384.98,1003.58 L385.45,1000.84 L385.91,998.18 L386.38,995.61 L386.85,993.12 L387.32,990.72 L387.78,988.42 L388.25,986.22 L388.72,984.12 L389.19,982.12 L389.65,980.24 L390.12,978.47 L390.59,976.81 L391.06,975.27 L391.53,973.86 L391.99,972.57 L392.46,971.41 L392.93,970.37 L393.40,969.47 L393.86,968.69 L394.33,968.05 L394.80,967.55 L395.27,967.18 L395.73,966.95 L396.20,966.85 L396.67,966.89 L397.14,967.07 L397.61,967.39 L398.07,967.84 L398.54,968.42 L399.01,969.14 L399.48,969.99 L399.94,970.98 L400.41,972.09 L400.88,973.33 L401.35,974.69 L401.81,976.18 L402.28,977.79 L402.75,979.52 L403.22,981.35 L403.69,983.31 L404.15,985.36 L404.62,987.53 L405.09,989.79 L405.56,992.15 L406.02,994.60 L406.49,997.14 L406.96,999.77 L407.43,1002.47 L407.89,1005.25 L408.36,1008.11 L408.83,1011.02 L409.30,1014.01 L409.77,1017.04 L410.23,1020.13 L410.70,1023.27 L411.17,1026.46 L411.64,1029.68 L412.10,1032.94 L412.57,1036.22 L413.04,1039.53 L413.51,1042.86 L413.97,1046.21 L414.44,1049.57 L414.91,1052.94 L415.38,1056.31 L415.85,1059.68 L416.31,1063.05 L416.78,1066.40 L417.25,1069.75 L417.72,1073.07 L418.18,1076.38 L418.65,1079.67 L419.12,1082.92 L419.59,1086.15 L420.05,1089.35 L420.52,1092.51 L420.99,1095.63 L421.46,1098.71 L421.93,1101.75 L422.39,1104.75 L422.86,1107.69 L423.33,1110.59 L423.80,1113.44 L424.26,1116.23 L424.73,1118.97 L425.20,1121.66 L425.67,1124.28 L426.13,1126.85 L426.60,1129.36 L427.07,1131.82 L427.54,1134.21 L428.01,1136.54 L428.47,1138.81 L428.94,1141.02 L429.41,1143.17 L429.88,1145.26 L430.34,1147.29 L430.81,1149.25 L431.28,1151.16 L431.75,1153.01 L432.22,1154.79 L432.68,1156.52 L433.15,1158.19 L433.62,1159.80 L434.09,1161.36 L434.55,1162.85 L435.02,1164.30 L435.49,1165.69 L435.96,1167.02 L436.42,1168.31 L436.89,1169.54 L437.36,1170.73 L437.83,1171.86 L438.30,1172.95 L438.76,1173.99 L439.23,1174.99 L439.70,1175.94 L440.17,1176.86 L440.63,1177.73 L441.10,1178.56 L441.57,1179.35 L442.04,1180.10 L442.50,1180.82 L442.97,1181.50 L443.44,1182.15 L443.91,1182.77 L444.38,1183.35 L444.84,1183.91 L445.31,1184.44 L445.78,1184.93 L446.25,1185.41 L446.71,1185.85 L447.18,1186.28 L447.65,1186.68 L448.12,1187.05 L448.58,1187.41 L449.05,1187.74 L449.52,1188.06 L449.99,1188.36 L450.46,1188.64 L450.92,1188.90 L451.39,1189.15 L451.86,1189.38 L452.33,1189.60 L452.79,1189.80 L453.26,1189.99 L453.73,1190.17 L454.20,1190.34 L454.66,1190.50 L455.13,1190.64 L455.60,1190.78 L456.07,1190.91 L456.54,1191.03 L457.00,1191.14 L457.47,1191.24 L457.94,1191.34 L458.41,1191.43 L458.87,1191.51 L459.34,1191.59 L459.81,1191.66 L460.28,1191.73 L460.74,1191.79 L461.21,1191.85 L461.68,1191.90 L462.15,1191.95 L462.62,1191.99 L463.08,1192.03 L463.55,1192.07 L464.02,1192.11 L464.49,1192.14 L464.95,1192.17 L465.42,1192.20 L465.89,1192.22 L466.36,1192.25 L466.82,1192.27 L467.29,1192.29 L467.76,1192.31 L468.23,1192.32 L468.70,1192.34 L469.16,1192.35 L469.63,1192.36 L470.10,1192.38 L470.57,1192.39 L471.03,1192.40 L471.50,1192.40 L471.97,1192.41 L472.44,1192.42 L472.90,1192.42 L473.37,1192.43 L473.84,1192.43 L474.31,1192.44 L474.78,1192.44 L475.24,1192.44 L475.71,1192.44 L476.18,1192.44 L476.65,1192.44 L477.11,1192.44 L477.58,1192.44 L478.05,1192.44 L478.52,1192.44 L478.99,1192.43 L479.45,1192.43 L479.92,1192.43 L480.39,1192.42 L480.86,1192.42 L481.32,1192.41 L481.79,1192.40 L482.26,1192.39 L482.73,1192.38 L483.19,1192.37 L483.66,1192.36 L484.13,1192.34 L484.60,1192.33 L485.07,1192.31 L485.53,1192.29 L486.00,1192.27 L486.47,1192.25 L486.94,1192.23 L487.40,1192.20 L487.87,1192.17 L488.34,1192.14 L488.81,1192.10 L489.27,1192.06 L489.74,1192.02 L490.21,1191.98 L490.68,1191.93 L491.15,1191.87 L491.61,1191.82 L492.08,1191.75 L492.55,1191.68 L493.02,1191.61 L493.48,1191.53 L493.95,1191.44 L494.42,1191.35 L494.89,1191.25 L495.35,1191.14 L495.82,1191.02 L496.29,1190.89 L496.76,1190.75 L497.23,1190.61 L497.69,1190.45 L498.16,1190.28 L498.63,1190.10 L499.10,1189.90 L499.56,1189.69 L500.03,1189.47 L500.50,1189.23 L500.97,1188.97 L501.43,1188.69 L501.90,1188.40 L502.37,1188.09 L502.84,1187.76 L503.31,1187.40 L503.77,1187.02 L504.24,1186.62 L504.71,1186.20 L505.18,1185.74 L505.64,1185.26 L506.11,1184.75 L506.58,1184.22 L507.05,1183.65 L507.51,1183.04 L507.98,1182.41 L508.45,1181.73 L508.92,1181.02 L509.39,1180.28 L509.85,1179.49 L510.32,1178.66 L510.79,1177.79 L511.26,1176.88 L511.72,1175.92 L512.19,1174.91 L512.66,1173.86 L513.13,1172.75 L513.59,1171.60 L514.06,1170.39 L514.53,1169.13 L515.00,1167.81 L515.47,1166.44 L515.93,1165.01 L516.40,1163.52 L516.87,1161.98 L517.34,1160.37 L517.80,1158.70 L518.27,1156.97 L518.74,1155.18 L519.21,1153.32 L519.67,1151.40 L520.14,1149.42 L520.61,1147.37 L521.08,1145.25 L521.55,1143.07 L522.01,1140.83 L522.48,1138.52 L522.95,1136.15 L523.42,1133.71 L523.88,1131.22 L524.35,1128.66 L524.82,1126.03 L525.29,1123.35 L525.76,1120.61 L526.22,1117.82 L526.69,1114.97 L527.16,1112.06 L527.63,1109.11 L528.09,1106.10 L528.56,1103.05 L529.03,1099.96 L529.50,1096.83 L529.96,1093.65 L530.43,1090.45 L530.90,1087.21 L531.37,1083.94 L531.84,1080.66 L532.30,1077.35 L532.77,1074.02 L533.24,1070.69 L533.71,1067.34 L534.17,1064.00 L534.64,1060.65 L535.11,1057.31 L535.58,1053.99 L536.04,1050.68 L536.51,1047.39 L536.98,1044.13 L537.45,1040.90 L537.92,1037.70 L538.38,1034.55 L538.85,1031.45 L539.32,1028.40 L539.79,1025.40 L540.25,1022.47 L540.72,1019.61 L541.19,1016.82 L541.66,1014.12 L542.12,1011.49 L542.59,1008.95 L543.06,1006.51 L543.53,1004.16 L544.00,1001.92 L544.46,999.78 L544.93,997.76 L545.40,995.85 L545.87,994.05 L546.33,992.38 L546.80,990.84 L547.27,989.42 L547.74,988.14 L548.20,986.99 L548.67,985.98 L549.14,985.10 L549.61,984.37 L550.08,983.78 L550.54,983.33 L551.01,983.02 L551.48,982.86 L551.95,982.86 L552.41,983.07 L552.88,983.50 L553.35,984.15 L553.82,985.02 L554.28,986.10 L554.75,987.38 L555.22,988.86 L555.69,990.51 L556.16,992.35 L556.62,994.36 L557.09,996.52 L557.56,998.84 L558.03,1001.30 L558.49,1003.90 L558.96,1006.62 L559.43,1009.45 L559.90,1012.39 L560.36,1015.43 L560.83,1018.55 L561.30,1021.75 L561.77,1025.02 L562.24,1028.36 L562.70,1031.74 L563.17,1035.17 L563.64,1038.64 L564.11,1042.14 L564.57,1045.66 L565.04,1049.19 L565.51,1052.73 L565.98,1056.28 L566.44,1059.81 L566.91,1063.34 L567.38,1066.85 L567.85,1070.34 L568.32,1073.81 L568.78,1077.24 L569.25,1080.64 L569.72,1083.99 L570.19,1087.31 L570.65,1090.58 L571.12,1093.80 L571.59,1096.97 L572.06,1100.09 L572.53,1103.14 L572.99,1106.14 L573.46,1109.08 L573.93,1111.96 L574.40,1114.78 L574.86,1117.53 L575.33,1120.21 L575.80,1122.83 L576.27,1125.39 L576.73,1127.88 L577.20,1130.30 L577.67,1132.65 L578.14,1134.94 L578.61,1137.17 L579.07,1139.33 L579.54,1141.42 L580.01,1143.45 L580.48,1145.41 L580.94,1147.32 L581.41,1149.16 L581.88,1150.94 L582.35,1152.66 L582.81,1154.32 L583.28,1155.93 L583.75,1157.48 L584.22,1158.97 L584.69,1160.41 L585.15,1161.80 L585.62,1163.13 L586.09,1164.42 L586.56,1165.65 L587.02,1166.84 L587.49,1167.98 L587.96,1169.08 L588.43,1170.14 L588.89,1171.15 L589.36,1172.12 L589.83,1173.06 L590.30,1173.95 L590.77,1174.81 L591.23,1175.63 L591.70,1176.41 L592.17,1177.17 L592.64,1177.89 L593.10,1178.58 L593.57,1179.24 L594.04,1179.87 L594.51,1180.48 L594.97,1181.05 L595.44,1181.60 L595.91,1182.13 L596.38,1182.63 L596.85,1183.11 L597.31,1183.57 L597.78,1184.01 L598.25,1184.43 L598.72,1184.83 L599.18,1185.20 L599.65,1185.57 L600.12,1185.91 L600.59,1186.24 L601.05,1186.55 L601.52,1186.85 L601.99,1187.13 L602.46,1187.41 L602.93,1187.66 L603.39,1187.91 L603.86,1188.14 L604.33,1188.36 L604.80,1188.57 L605.26,1188.77 L605.73,1188.96 L606.20,1189.15 L606.67,1189.32 L607.13,1189.48 L607.60,1189.64 L608.07,1189.78 L608.54,1189.92 L609.01,1190.06 L609.47,1190.18 L609.94,1190.31 L610.41,1190.42 L610.88,1190.53 L611.34,1190.63 L611.81,1190.73 L612.28,1190.82 L612.75,1190.91 L613.21,1190.99 L613.68,1191.07 L614.15,1191.15 L614.62,1191.22 L615.09,1191.29 L615.55,1191.35 L616.02,1191.41 L616.49,1191.47 L616.96,1191.52 L617.42,1191.57 L617.89,1191.62 L618.36,1191.67 L618.83,1191.71 L619.30,1191.75 L619.76,1191.79 L620.23,1191.83 L620.70,1191.87 L621.17,1191.90 L621.63,1191.93 L622.10,1191.96 L622.57,1191.99" fill="none" stroke="#0A7A43" stroke-width="1.45" stroke-linejoin="round" />
<path d="M458.87,1191.51 L459.34,1191.59 L459.81,1191.66 L460.28,1191.73 L460.74,1191.79 L461.21,1191.85 L461.68,1191.90 L462.15,1191.95 L462.62,1191.99 L463.08,1192.03 L463.55,1192.07 L464.02,1192.11 L464.49,1192.14 L464.95,1192.17 L465.42,1192.20 L465.89,1192.23 L466.36,1192.25 L466.82,1192.27 L467.29,1192.29 L467.76,1192.31 L468.23,1192.32 L468.70,1192.34 L469.16,1192.35 L469.63,1192.37 L470.10,1192.38 L470.57,1192.39 L471.03,1192.40 L471.50,1192.41 L471.97,1192.41 L472.44,1192.42 L472.90,1192.43 L473.37,1192.43 L473.84,1192.44 L474.31,1192.44 L474.78,1192.44 L475.24,1192.44 L475.71,1192.45 L476.18,1192.45 L476.65,1192.45 L477.11,1192.45 L477.58,1192.45 L478.05,1192.45 L478.52,1192.45 L478.99,1192.45 L479.45,1192.44 L479.92,1192.44 L480.39,1192.44 L480.86,1192.43 L481.32,1192.43 L481.79,1192.42 L482.26,1192.41 L482.73,1192.41 L483.19,1192.40 L483.66,1192.39 L484.13,1192.38 L484.60,1192.36 L485.07,1192.35 L485.53,1192.34 L486.00,1192.32 L486.47,1192.30 L486.94,1192.28 L487.40,1192.26 L487.87,1192.24 L488.34,1192.21 L488.81,1192.18 L489.27,1192.15 L489.74,1192.12 L490.21,1192.08 L490.68,1192.04 L491.15,1191.99 L491.61,1191.95 L492.08,1191.89 L492.55,1191.84 L493.02,1191.78 L493.48,1191.71 L493.95,1191.64 L494.42,1191.56 L494.89,1191.47 L495.35,1191.38 L495.82,1191.28 L496.29,1191.18 L496.76,1191.06 L497.23,1190.94 L497.69,1190.81 L498.16,1190.66 L498.63,1190.51 L499.10,1190.35 L499.56,1190.17 L500.03,1189.98 L500.50,1189.78 L500.97,1189.56 L501.43,1189.32 L501.90,1189.07 L502.37,1188.81 L502.84,1188.52 L503.31,1188.22 L503.77,1187.90 L504.24,1187.55 L504.71,1187.19 L505.18,1186.80 L505.64,1186.39 L506.11,1185.95 L506.58,1185.48 L507.05,1184.99 L507.51,1184.46 L507.98,1183.91 L508.45,1183.33 L508.92,1182.71 L509.39,1182.06 L509.85,1181.37 L510.32,1180.65 L510.79,1179.88 L511.26,1179.08 L511.72,1178.23 L512.19,1177.35 L512.66,1176.42 L513.13,1175.44 L513.59,1174.42 L514.06,1173.35 L514.53,1172.23 L515.00,1171.05 L515.47,1169.83 L515.93,1168.55 L516.40,1167.22 L516.87,1165.84 L517.34,1164.39 L517.80,1162.89 L518.27,1161.34 L518.74,1159.72 L519.21,1158.04 L519.67,1156.30 L520.14,1154.50 L520.61,1152.64 L521.08,1150.71 L521.55,1148.72 L522.01,1146.67 L522.48,1144.56 L522.95,1142.38 L523.42,1140.15 L523.88,1137.84 L524.35,1135.48 L524.82,1133.06 L525.29,1130.58 L525.76,1128.03 L526.22,1125.43 L526.69,1122.78 L527.16,1120.06 L527.63,1117.30 L528.09,1114.48 L528.56,1111.62 L529.03,1108.70 L529.50,1105.74 L529.96,1102.74 L530.43,1099.70 L530.90,1096.63 L531.37,1093.52 L531.84,1090.38 L532.30,1087.21 L532.77,1084.02 L533.24,1080.81 L533.71,1077.58 L534.17,1074.35 L534.64,1071.11 L535.11,1067.86 L535.58,1064.62 L536.04,1061.38 L536.51,1058.15 L536.98,1054.94 L537.45,1051.75 L537.92,1048.59 L538.38,1045.46 L538.85,1042.36 L539.32,1039.30 L539.79,1036.29 L540.25,1033.33 L540.72,1030.43 L541.19,1027.59 L541.66,1024.81 L542.12,1022.11 L542.59,1019.48 L543.06,1016.93 L543.53,1014.47 L544.00,1012.10 L544.46,1009.83 L544.93,1007.65 L545.40,1005.58 L545.87,1003.61 L546.33,1001.76 L546.80,1000.02 L547.27,998.40 L547.74,996.90 L548.20,995.53 L548.67,994.29 L549.14,993.17 L549.61,992.19 L550.08,991.34 L550.54,990.63 L551.01,990.05 L551.48,989.62 L551.95,989.32 L552.41,989.17 L552.88,989.15 L553.35,989.25 L553.82,989.45 L554.28,989.75 L554.75,990.15 L555.22,990.65 L555.69,991.26 L556.16,991.96 L556.62,992.75 L557.09,993.65 L557.56,994.63 L558.03,995.71 L558.49,996.87 L558.96,998.12 L559.43,999.45 L559.90,1000.87 L560.36,1002.36 L560.83,1003.93 L561.30,1005.57 L561.77,1007.29 L562.24,1009.07 L562.70,1010.92 L563.17,1012.83 L563.64,1014.80 L564.11,1016.83 L564.57,1018.92 L565.04,1021.05 L565.51,1023.23 L565.98,1025.46 L566.44,1027.73 L566.91,1030.04 L567.38,1032.38 L567.85,1034.76 L568.32,1037.17 L568.78,1039.60 L569.25,1042.07 L569.72,1044.55 L570.19,1047.05 L570.65,1049.57 L571.12,1052.10 L571.59,1054.64 L572.06,1057.19 L572.53,1059.75 L572.99,1062.31 L573.46,1064.88 L573.93,1067.44 L574.40,1069.99 L574.86,1072.55 L575.33,1075.09 L575.80,1077.62 L576.27,1080.15 L576.73,1082.65 L577.20,1085.15 L577.67,1087.62 L578.14,1090.08 L578.61,1092.51 L579.07,1094.93 L579.54,1097.32 L580.01,1099.68 L580.48,1102.02 L580.94,1104.34 L581.41,1106.62 L581.88,1108.87 L582.35,1111.10 L582.81,1113.29 L583.28,1115.45 L583.75,1117.57 L584.22,1119.67 L584.69,1121.73 L585.15,1123.75 L585.62,1125.74 L586.09,1127.69 L586.56,1129.61 L587.02,1131.49 L587.49,1133.33 L587.96,1135.14 L588.43,1136.91 L588.89,1138.64 L589.36,1140.33 L589.83,1141.99 L590.30,1143.61 L590.77,1145.19 L591.23,1146.74 L591.70,1148.25 L592.17,1149.72 L592.64,1151.16 L593.10,1152.56 L593.57,1153.93 L594.04,1155.25 L594.51,1156.55 L594.97,1157.81 L595.44,1159.03 L595.91,1160.23 L596.38,1161.38 L596.85,1162.51 L597.31,1163.60 L597.78,1164.66 L598.25,1165.69 L598.72,1166.69 L599.18,1167.66 L599.65,1168.60 L600.12,1169.51 L600.59,1170.39 L601.05,1171.24 L601.52,1172.07 L601.99,1172.87 L602.46,1173.64 L602.93,1174.39 L603.39,1175.11 L603.86,1175.81 L604.33,1176.49 L604.80,1177.14 L605.26,1177.76 L605.73,1178.37 L606.20,1178.96 L606.67,1179.52 L607.13,1180.06 L607.60,1180.59 L608.07,1181.09 L608.54,1181.58 L609.01,1182.05 L609.47,1182.50 L609.94,1182.93 L610.41,1183.35 L610.88,1183.75 L611.34,1184.13 L611.81,1184.50 L612.28,1184.86 L612.75,1185.20 L613.21,1185.53 L613.68,1185.84 L614.15,1186.14 L614.62,1186.43 L615.09,1186.71 L615.55,1186.98 L616.02,1187.23 L616.49,1187.48 L616.96,1187.71 L617.42,1187.93 L617.89,1188.15 L618.36,1188.35 L618.83,1188.55 L619.30,1188.74 L619.76,1188.92 L620.23,1189.09 L620.70,1189.26 L621.17,1189.41 L621.63,1189.56 L622.10,1189.71 L622.57,1189.84" fill="none" stroke="#0A7A43" stroke-width="1.45" stroke-linejoin="round" />
<path d="M458.87,1190.36 L459.34,1190.40 L459.81,1190.45 L460.28,1190.48 L460.74,1190.51 L461.21,1190.53 L461.68,1190.55 L462.15,1190.56 L462.62,1190.57 L463.08,1190.58 L463.55,1190.58 L464.02,1190.57 L464.49,1190.57 L464.95,1190.55 L465.42,1190.54 L465.89,1190.52 L466.36,1190.50 L466.82,1190.47 L467.29,1190.45 L467.76,1190.41 L468.23,1190.38 L468.70,1190.34 L469.16,1190.30 L469.63,1190.26 L470.10,1190.21 L470.57,1190.17 L471.03,1190.11 L471.50,1190.06 L471.97,1190.00 L472.44,1189.95 L472.90,1189.88 L473.37,1189.82 L473.84,1189.75 L474.31,1189.68 L474.78,1189.61 L475.24,1189.54 L475.71,1189.46 L476.18,1189.38 L476.65,1189.30 L477.11,1189.21 L477.58,1189.12 L478.05,1189.03 L478.52,1188.94 L478.99,1188.84 L479.45,1188.74 L479.92,1188.63 L480.39,1188.53 L480.86,1188.42 L481.32,1188.30 L481.79,1188.18 L482.26,1188.06 L482.73,1187.94 L483.19,1187.81 L483.66,1187.68 L484.13,1187.54 L484.60,1187.40 L485.07,1187.25 L485.53,1187.10 L486.00,1186.95 L486.47,1186.79 L486.94,1186.62 L487.40,1186.45 L487.87,1186.28 L488.34,1186.10 L488.81,1185.92 L489.27,1185.73 L489.74,1185.53 L490.21,1185.33 L490.68,1185.12 L491.15,1184.90 L491.61,1184.68 L492.08,1184.45 L492.55,1184.22 L493.02,1183.98 L493.48,1183.73 L493.95,1183.47 L494.42,1183.21 L494.89,1182.94 L495.35,1182.66 L495.82,1182.37 L496.29,1182.07 L496.76,1181.76 L497.23,1181.45 L497.69,1181.12 L498.16,1180.79 L498.63,1180.44 L499.10,1180.09 L499.56,1179.72 L500.03,1179.35 L500.50,1178.96 L500.97,1178.56 L501.43,1178.15 L501.90,1177.73 L502.37,1177.29 L502.84,1176.84 L503.31,1176.38 L503.77,1175.91 L504.24,1175.42 L504.71,1174.92 L505.18,1174.40 L505.64,1173.86 L506.11,1173.32 L506.58,1172.75 L507.05,1172.17 L507.51,1171.57 L507.98,1170.96 L508.45,1170.33 L508.92,1169.68 L509.39,1169.01 L509.85,1168.32 L510.32,1167.62 L510.79,1166.89 L511.26,1166.14 L511.72,1165.38 L512.19,1164.59 L512.66,1163.78 L513.13,1162.95 L513.59,1162.09 L514.06,1161.21 L514.53,1160.31 L515.00,1159.38 L515.47,1158.43 L515.93,1157.46 L516.40,1156.45 L516.87,1155.43 L517.34,1154.37 L517.80,1153.29 L518.27,1152.18 L518.74,1151.04 L519.21,1149.87 L519.67,1148.68 L520.14,1147.45 L520.61,1146.20 L521.08,1144.91 L521.55,1143.60 L522.01,1142.25 L522.48,1140.87 L522.95,1139.46 L523.42,1138.02 L523.88,1136.55 L524.35,1135.04 L524.82,1133.50 L525.29,1131.92 L525.76,1130.32 L526.22,1128.68 L526.69,1127.00 L527.16,1125.29 L527.63,1123.55 L528.09,1121.78 L528.56,1119.97 L529.03,1118.13 L529.50,1116.25 L529.96,1114.35 L530.43,1112.41 L530.90,1110.44 L531.37,1108.44 L531.84,1106.40 L532.30,1104.34 L532.77,1102.25 L533.24,1100.13 L533.71,1097.98 L534.17,1095.81 L534.64,1093.61 L535.11,1091.39 L535.58,1089.14 L536.04,1086.88 L536.51,1084.59 L536.98,1082.29 L537.45,1079.98 L537.92,1077.65 L538.38,1075.31 L538.85,1072.96 L539.32,1070.60 L539.79,1068.24 L540.25,1065.88 L540.72,1063.53 L541.19,1061.18 L541.66,1058.83 L542.12,1056.50 L542.59,1054.19 L543.06,1051.89 L543.53,1049.62 L544.00,1047.38 L544.46,1045.17 L544.93,1043.00 L545.40,1040.86 L545.87,1038.77 L546.33,1036.74 L546.80,1034.75 L547.27,1032.83 L547.74,1030.98 L548.20,1029.19 L548.67,1027.48 L549.14,1025.85 L549.61,1024.31 L550.08,1022.86 L550.54,1021.51 L551.01,1020.27 L551.48,1019.13 L551.95,1018.10 L552.41,1017.20 L552.88,1016.42 L553.35,1015.78 L553.82,1015.27 L554.28,1014.89 L554.75,1014.67 L555.22,1014.59 L555.69,1014.62 L556.16,1014.70 L556.62,1014.83 L557.09,1015.02 L557.56,1015.27 L558.03,1015.56 L558.49,1015.91 L558.96,1016.31 L559.43,1016.77 L559.90,1017.27 L560.36,1017.83 L560.83,1018.44 L561.30,1019.10 L561.77,1019.81 L562.24,1020.56 L562.70,1021.37 L563.17,1022.23 L563.64,1023.13 L564.11,1024.08 L564.57,1025.07 L565.04,1026.11 L565.51,1027.19 L565.98,1028.32 L566.44,1029.48 L566.91,1030.69 L567.38,1031.94 L567.85,1033.22 L568.32,1034.55 L568.78,1035.91 L569.25,1037.30 L569.72,1038.73 L570.19,1040.20 L570.65,1041.69 L571.12,1043.22 L571.59,1044.77 L572.06,1046.36 L572.53,1047.97 L572.99,1049.60 L573.46,1051.26 L573.93,1052.95 L574.40,1054.65 L574.86,1056.38 L575.33,1058.12 L575.80,1059.88 L576.27,1061.66 L576.73,1063.46 L577.20,1065.26 L577.67,1067.09 L578.14,1068.92 L578.61,1070.76 L579.07,1072.61 L579.54,1074.47 L580.01,1076.34 L580.48,1078.21 L580.94,1080.08 L581.41,1081.96 L581.88,1083.84 L582.35,1085.72 L582.81,1087.60 L583.28,1089.48 L583.75,1091.35 L584.22,1093.22 L584.69,1095.09 L585.15,1096.95 L585.62,1098.80 L586.09,1100.64 L586.56,1102.48 L587.02,1104.31 L587.49,1106.12 L587.96,1107.92 L588.43,1109.71 L588.89,1111.49 L589.36,1113.25 L589.83,1115.00 L590.30,1116.73 L590.77,1118.45 L591.23,1120.15 L591.70,1121.83 L592.17,1123.50 L592.64,1125.14 L593.10,1126.77 L593.57,1128.37 L594.04,1129.96 L594.51,1131.52 L594.97,1133.07 L595.44,1134.59 L595.91,1136.09 L596.38,1137.57 L596.85,1139.03 L597.31,1140.46 L597.78,1141.87 L598.25,1143.26 L598.72,1144.62 L599.18,1145.96 L599.65,1147.27 L600.12,1148.57 L600.59,1149.83 L601.05,1151.08 L601.52,1152.30 L601.99,1153.49 L602.46,1154.67 L602.93,1155.81 L603.39,1156.94 L603.86,1158.04 L604.33,1159.11 L604.80,1160.17 L605.26,1161.19 L605.73,1162.20 L606.20,1163.18 L606.67,1164.14 L607.13,1165.07 L607.60,1165.99 L608.07,1166.88 L608.54,1167.74 L609.01,1168.59 L609.47,1169.41 L609.94,1170.22 L610.41,1171.00 L610.88,1171.76 L611.34,1172.50 L611.81,1173.21 L612.28,1173.91 L612.75,1174.59 L613.21,1175.25 L613.68,1175.89 L614.15,1176.51 L614.62,1177.11 L615.09,1177.70 L615.55,1178.26 L616.02,1178.81 L616.49,1179.34 L616.96,1179.86 L617.42,1180.36 L617.89,1180.84 L618.36,1181.30 L618.83,1181.76 L619.30,1182.19 L619.76,1182.61 L620.23,1183.02 L620.70,1183.41 L621.17,1183.79 L621.63,1184.16 L622.10,1184.51 L622.57,1184.85" fill="none" stroke="#0A7A43" stroke-width="1.45" stroke-linejoin="round" />
<path d="M168.90,1192.50 L169.37,1192.50 L169.84,1192.50 L170.30,1192.50 L170.77,1192.50 L171.24,1192.50 L171.71,1192.50 L172.17,1192.50 L172.64,1192.50 L173.11,1192.50 L173.58,1192.50 L174.04,1192.50 L174.51,1192.50 L174.98,1192.50 L175.45,1192.50 L175.92,1192.50 L176.38,1192.50 L176.85,1192.50 L177.32,1192.50 L177.79,1192.50 L178.25,1192.50 L178.72,1192.50 L179.19,1192.50 L179.66,1192.50 L180.12,1192.50 L180.59,1192.50 L181.06,1192.50 L181.53,1192.50 L182.00,1192.50 L182.46,1192.50 L182.93,1192.50 L183.40,1192.50 L183.87,1192.50 L184.33,1192.50 L184.80,1192.50 L185.27,1192.50 L185.74,1192.50 L186.20,1192.50 L186.67,1192.50 L187.14,1192.50 L187.61,1192.50 L188.08,1192.50 L188.54,1192.50 L189.01,1192.50 L189.48,1192.50 L189.95,1192.50 L190.41,1192.50 L190.88,1192.50 L191.35,1192.50 L191.82,1192.50 L192.28,1192.50 L192.75,1192.50 L193.22,1192.50 L193.69,1192.50 L194.16,1192.50 L194.62,1192.50 L195.09,1192.50 L195.56,1192.50 L196.03,1192.50 L196.49,1192.50 L196.96,1192.50 L197.43,1192.50 L197.90,1192.50 L198.37,1192.50 L198.83,1192.50 L199.30,1192.50 L199.77,1192.50 L200.24,1192.50 L200.70,1192.50 L201.17,1192.50 L201.64,1192.50 L202.11,1192.50 L202.57,1192.50 L203.04,1192.50 L203.51,1192.50 L203.98,1192.50 L204.45,1192.50 L204.91,1192.50 L205.38,1192.50 L205.85,1192.50 L206.32,1192.50 L206.78,1192.50 L207.25,1192.50 L207.72,1192.50 L208.19,1192.50 L208.65,1192.50 L209.12,1192.50 L209.59,1192.50 L210.06,1192.50 L210.53,1192.50 L210.99,1192.50 L211.46,1192.50 L211.93,1192.50 L212.40,1192.50 L212.86,1192.50 L213.33,1192.50 L213.80,1192.50 L214.27,1192.50 L214.73,1192.50 L215.20,1192.50 L215.67,1192.50 L216.14,1192.50 L216.61,1192.50 L217.07,1192.50 L217.54,1192.50 L218.01,1192.50 L218.48,1192.50 L218.94,1192.50 L219.41,1192.50 L219.88,1192.50 L220.35,1192.50 L220.81,1192.50 L221.28,1192.50 L221.75,1192.50 L222.22,1192.50 L222.69,1192.50 L223.15,1192.50 L223.62,1192.50 L224.09,1192.50 L224.56,1192.50 L225.02,1192.50 L225.49,1192.50 L225.96,1192.50 L226.43,1192.50 L226.89,1192.50 L227.36,1192.50 L227.83,1192.50 L228.30,1192.50 L228.77,1192.50 L229.23,1192.50 L229.70,1192.50 L230.17,1192.50 L230.64,1192.50 L231.10,1192.50 L231.57,1192.50 L232.04,1192.50 L232.51,1192.50 L232.97,1192.50 L233.44,1192.50 L233.91,1192.50 L234.38,1192.50 L234.85,1192.50 L235.31,1192.50 L235.78,1192.50 L236.25,1192.50 L236.72,1192.50 L237.18,1192.50 L237.65,1192.50 L238.12,1192.50 L238.59,1192.50 L239.06,1192.50 L239.52,1192.50 L239.99,1192.50 L240.46,1192.50 L240.93,1192.50 L241.39,1192.50 L241.86,1192.50 L242.33,1192.50 L242.80,1192.50 L243.26,1192.50 L243.73,1192.50 L244.20,1192.50 L244.67,1192.50 L245.14,1192.50 L245.60,1192.50 L246.07,1192.50 L246.54,1192.50 L247.01,1192.50 L247.47,1192.50 L247.94,1192.50 L248.41,1192.50 L248.88,1192.50 L249.34,1192.50 L249.81,1192.50 L250.28,1192.50 L250.75,1192.50 L251.22,1192.50 L251.68,1192.50 L252.15,1192.50 L252.62,1192.50 L253.09,1192.50 L253.55,1192.50 L254.02,1192.50 L254.49,1192.50 L254.96,1192.50 L255.42,1192.50 L255.89,1192.50 L256.36,1192.50 L256.83,1192.50 L257.30,1192.50 L257.76,1192.50 L258.23,1192.50 L258.70,1192.50 L259.17,1192.50 L259.63,1192.50 L260.10,1192.50 L260.57,1192.50 L261.04,1192.50 L261.50,1192.50 L261.97,1192.50 L262.44,1192.50 L262.91,1192.50 L263.38,1192.50 L263.84,1192.50 L264.31,1192.50 L264.78,1192.50 L265.25,1192.50 L265.71,1192.50 L266.18,1192.50 L266.65,1192.50 L267.12,1192.50 L267.58,1192.50 L268.05,1192.50 L268.52,1192.50 L268.99,1192.50 L269.46,1192.50 L269.92,1192.50 L270.39,1192.50 L270.86,1192.50 L271.33,1192.50 L271.79,1192.50 L272.26,1192.50 L272.73,1192.50 L273.20,1192.50 L273.66,1192.50 L274.13,1192.50 L274.60,1192.50 L275.07,1192.50 L275.54,1192.50 L276.00,1192.50 L276.47,1192.50 L276.94,1192.50 L277.41,1192.50 L277.87,1192.50 L278.34,1192.50 L278.81,1192.50 L279.28,1192.50 L279.74,1192.50 L280.21,1192.50 L280.68,1192.50 L281.15,1192.50 L281.62,1192.50 L282.08,1192.50 L282.55,1192.50 L283.02,1192.50 L283.49,1192.50 L283.95,1192.50 L284.42,1192.50 L284.89,1192.50 L285.36,1192.50 L285.82,1192.50 L286.29,1192.50 L286.76,1192.50 L287.23,1192.50 L287.70,1192.50 L288.16,1192.50 L288.63,1192.50 L289.10,1192.50 L289.57,1192.50 L290.03,1192.50 L290.50,1192.50 L290.97,1192.50 L291.44,1192.50 L291.91,1192.50 L292.37,1192.50 L292.84,1192.50 L293.31,1192.50 L293.78,1192.50 L294.24,1192.50 L294.71,1192.50 L295.18,1192.50 L295.65,1192.50 L296.11,1192.50 L296.58,1192.50 L297.05,1192.50 L297.52,1192.50 L297.99,1192.50 L298.45,1192.50 L298.92,1192.50 L299.39,1192.50 L299.86,1192.50 L300.32,1192.50 L300.79,1192.50 L301.26,1192.50 L301.73,1192.50 L302.19,1192.50 L302.66,1192.50 L303.13,1192.50 L303.60,1192.50 L304.07,1192.50 L304.53,1192.50 L305.00,1192.50 L305.47,1192.50 L305.94,1192.50 L306.40,1192.50 L306.87,1192.50 L307.34,1192.50 L307.81,1192.50 L308.27,1192.50 L308.74,1192.50 L309.21,1192.50 L309.68,1192.50 L310.15,1192.50 L310.61,1192.50 L311.08,1192.50 L311.55,1192.50 L312.02,1192.50 L312.48,1192.50 L312.95,1192.50 L313.42,1192.50 L313.89,1192.50 L314.35,1192.50 L314.82,1192.50 L315.29,1192.50 L315.76,1192.50 L316.23,1192.50 L316.69,1192.50 L317.16,1192.50 L317.63,1192.50 L318.10,1192.50 L318.56,1192.50 L319.03,1192.50 L319.50,1192.50 L319.97,1192.50 L320.43,1192.50 L320.90,1192.50 L321.37,1192.50 L321.84,1192.50 L322.31,1192.50 L322.77,1192.50 L323.24,1192.50 L323.71,1192.50 L324.18,1192.50 L324.64,1192.50 L325.11,1192.50 L325.58,1192.50 L326.05,1192.50 L326.51,1192.50 L326.98,1192.50 L327.45,1192.50 L327.92,1192.50 L328.39,1192.50 L328.85,1192.50 L329.32,1192.50 L329.79,1192.50 L330.26,1192.50 L330.72,1192.49 L331.19,1192.49 L331.66,1192.49 L332.13,1192.49 L332.60,1192.49 L333.06,1192.49 L333.53,1192.49 L334.00,1192.48 L334.47,1192.48 L334.93,1192.48 L335.40,1192.48 L335.87,1192.47 L336.34,1192.47 L336.80,1192.46 L337.27,1192.46 L337.74,1192.45 L338.21,1192.44 L338.68,1192.44 L339.14,1192.43 L339.61,1192.42 L340.08,1192.41 L340.55,1192.39 L341.01,1192.38 L341.48,1192.36 L341.95,1192.35 L342.42,1192.33 L342.88,1192.30 L343.35,1192.28 L343.82,1192.25 L344.29,1192.22 L344.76,1192.18 L345.22,1192.14 L345.69,1192.10 L346.16,1192.05 L346.63,1192.00 L347.09,1191.94 L347.56,1191.87 L348.03,1191.80 L348.50,1191.71 L348.96,1191.62 L349.43,1191.53 L349.90,1191.42 L350.37,1191.30 L350.84,1191.16 L351.30,1191.02 L351.77,1190.86 L352.24,1190.69 L352.71,1190.50 L353.17,1190.29 L353.64,1190.06 L354.11,1189.82 L354.58,1189.55 L355.04,1189.26 L355.51,1188.94 L355.98,1188.60 L356.45,1188.23 L356.92,1187.82 L357.38,1187.39 L357.85,1186.92 L358.32,1186.42 L358.79,1185.87 L359.25,1185.29 L359.72,1184.66 L360.19,1183.99 L360.66,1183.27 L361.12,1182.50 L361.59,1181.68 L362.06,1180.80 L362.53,1179.87 L363.00,1178.87 L363.46,1177.81 L363.93,1176.69 L364.40,1175.50 L364.87,1174.24 L365.33,1172.91 L365.80,1171.50 L366.27,1170.02 L366.74,1168.45 L367.20,1166.81 L367.67,1165.08 L368.14,1163.27 L368.61,1161.37 L369.08,1159.39 L369.54,1157.31 L370.01,1155.14 L370.48,1152.89 L370.95,1150.54 L371.41,1148.10 L371.88,1145.56 L372.35,1142.94 L372.82,1140.22 L373.28,1137.41 L373.75,1134.51 L374.22,1131.53 L374.69,1128.45 L375.16,1125.29 L375.62,1122.05 L376.09,1118.72 L376.56,1115.32 L377.03,1111.85 L377.49,1108.30 L377.96,1104.69 L378.43,1101.02 L378.90,1097.28 L379.37,1093.50 L379.83,1089.66 L380.30,1085.79 L380.77,1081.88 L381.24,1077.93 L381.70,1073.97 L382.17,1069.98 L382.64,1065.99 L383.11,1061.99 L383.57,1057.99 L384.04,1054.00 L384.51,1050.03 L384.98,1046.09 L385.45,1042.18 L385.91,1038.30 L386.38,1034.48 L386.85,1030.72 L387.32,1027.02 L387.78,1023.39 L388.25,1019.84 L388.72,1016.39 L389.19,1013.03 L389.65,1009.79 L390.12,1006.66 L390.59,1003.66 L391.06,1000.80 L391.53,998.09 L391.99,995.54 L392.46,993.17 L392.93,990.98 L393.40,989.00 L393.86,987.25 L394.33,985.73 L394.80,984.49 L395.27,983.53 L395.73,982.90 L396.20,982.62 L396.67,982.74 L397.14,983.24 L397.61,984.07 L398.07,985.20 L398.54,986.61 L399.01,988.27 L399.48,990.17 L399.94,992.27 L400.41,994.57 L400.88,997.05 L401.35,999.70 L401.81,1002.50 L402.28,1005.44 L402.75,1008.52 L403.22,1011.72 L403.69,1015.04 L404.15,1018.45 L404.62,1021.96 L405.09,1025.56 L405.56,1029.23 L406.02,1032.97 L406.49,1036.77 L406.96,1040.62 L407.43,1044.52 L407.89,1048.45 L408.36,1052.41 L408.83,1056.39 L409.30,1060.39 L409.77,1064.39 L410.23,1068.38 L410.70,1072.37 L411.17,1076.35 L411.64,1080.30 L412.10,1084.23 L412.57,1088.12 L413.04,1091.97 L413.51,1095.77 L413.97,1099.53 L414.44,1103.23 L414.91,1106.87 L415.38,1110.44 L415.85,1113.94 L416.31,1117.37 L416.78,1120.73 L417.25,1124.00 L417.72,1127.20 L418.18,1130.31 L418.65,1133.33 L419.12,1136.26 L419.59,1139.11 L420.05,1141.86 L420.52,1144.53 L420.99,1147.10 L421.46,1149.57 L421.93,1151.96 L422.39,1154.25 L422.86,1156.45 L423.33,1158.57 L423.80,1160.59 L424.26,1162.52 L424.73,1164.37 L425.20,1166.13 L425.67,1167.81 L426.13,1169.40 L426.60,1170.92 L427.07,1172.35 L427.54,1173.72 L428.01,1175.00 L428.47,1176.22 L428.94,1177.37 L429.41,1178.45 L429.88,1179.47 L430.34,1180.43 L430.81,1181.33 L431.28,1182.18 L431.75,1182.97 L432.22,1183.71 L432.68,1184.40 L433.15,1185.04 L433.62,1185.64 L434.09,1186.20 L434.55,1186.72 L435.02,1187.21 L435.49,1187.65 L435.96,1188.07 L436.42,1188.45 L436.89,1188.81 L437.36,1189.13 L437.83,1189.43 L438.30,1189.71 L438.76,1189.97 L439.23,1190.20 L439.70,1190.41 L440.17,1190.61 L440.63,1190.79 L441.10,1190.96 L441.57,1191.11 L442.04,1191.24 L442.50,1191.37 L442.97,1191.48 L443.44,1191.58 L443.91,1191.68 L444.38,1191.76 L444.84,1191.84 L445.31,1191.91 L445.78,1191.97 L446.25,1192.02 L446.71,1192.07 L447.18,1192.12 L447.65,1192.16 L448.12,1192.20 L448.58,1192.23 L449.05,1192.26 L449.52,1192.28 L449.99,1192.30 L450.46,1192.33 L450.92,1192.34 L451.39,1192.36 L451.86,1192.37 L452.33,1192.38 L452.79,1192.39 L453.26,1192.40 L453.73,1192.41 L454.20,1192.42 L454.66,1192.42 L455.13,1192.42 L455.60,1192.43 L456.07,1192.43 L456.54,1192.43 L457.00,1192.43 L457.47,1192.43 L457.94,1192.43 L458.41,1192.43 L458.87,1192.42 L459.34,1192.42 L459.81,1192.42 L460.28,1192.41 L460.74,1192.41 L461.21,1192.40 L461.68,1192.39 L462.15,1192.39 L462.62,1192.38 L463.08,1192.37 L463.55,1192.36 L464.02,1192.35 L464.49,1192.34 L464.95,1192.32 L465.42,1192.31 L465.89,1192.30 L466.36,1192.28 L466.82,1192.26 L467.29,1192.25 L467.76,1192.23 L468.23,1192.20 L468.70,1192.18 L469.16,1192.16 L469.63,1192.13 L470.10,1192.10 L470.57,1192.07 L471.03,1192.04 L471.50,1192.01 L471.97,1191.97 L472.44,1191.93 L472.90,1191.89 L473.37,1191.85 L473.84,1191.80 L474.31,1191.75 L474.78,1191.70 L475.24,1191.64 L475.71,1191.58 L476.18,1191.52 L476.65,1191.45 L477.11,1191.38 L477.58,1191.30 L478.05,1191.22 L478.52,1191.13 L478.99,1191.04 L479.45,1190.94 L479.92,1190.84 L480.39,1190.73 L480.86,1190.61 L481.32,1190.49 L481.79,1190.36 L482.26,1190.23 L482.73,1190.08 L483.19,1189.93 L483.66,1189.77 L484.13,1189.60 L484.60,1189.42 L485.07,1189.23 L485.53,1189.03 L486.00,1188.82 L486.47,1188.60 L486.94,1188.36 L487.40,1188.12 L487.87,1187.86 L488.34,1187.59 L488.81,1187.31 L489.27,1187.01 L489.74,1186.70 L490.21,1186.37 L490.68,1186.02 L491.15,1185.66 L491.61,1185.29 L492.08,1184.89 L492.55,1184.48 L493.02,1184.04 L493.48,1183.59 L493.95,1183.12 L494.42,1182.63 L494.89,1182.11 L495.35,1181.57 L495.82,1181.01 L496.29,1180.43 L496.76,1179.82 L497.23,1179.19 L497.69,1178.53 L498.16,1177.84 L498.63,1177.13 L499.10,1176.39 L499.56,1175.62 L500.03,1174.82 L500.50,1173.99 L500.97,1173.13 L501.43,1172.23 L501.90,1171.31 L502.37,1170.35 L502.84,1169.36 L503.31,1168.34 L503.77,1167.28 L504.24,1166.18 L504.71,1165.05 L505.18,1163.88 L505.64,1162.67 L506.11,1161.43 L506.58,1160.15 L507.05,1158.83 L507.51,1157.46 L507.98,1156.06 L508.45,1154.62 L508.92,1153.14 L509.39,1151.62 L509.85,1150.06 L510.32,1148.45 L510.79,1146.81 L511.26,1145.12 L511.72,1143.39 L512.19,1141.62 L512.66,1139.80 L513.13,1137.95 L513.59,1136.05 L514.06,1134.11 L514.53,1132.13 L515.00,1130.11 L515.47,1128.04 L515.93,1125.94 L516.40,1123.80 L516.87,1121.61 L517.34,1119.39 L517.80,1117.13 L518.27,1114.84 L518.74,1112.50 L519.21,1110.13 L519.67,1107.73 L520.14,1105.29 L520.61,1102.82 L521.08,1100.31 L521.55,1097.78 L522.01,1095.22 L522.48,1092.63 L522.95,1090.01 L523.42,1087.37 L523.88,1084.70 L524.35,1082.02 L524.82,1079.31 L525.29,1076.59 L525.76,1073.85 L526.22,1071.09 L526.69,1068.32 L527.16,1065.55 L527.63,1062.76 L528.09,1059.97 L528.56,1057.18 L529.03,1054.38 L529.50,1051.59 L529.96,1048.79 L530.43,1046.01 L530.90,1043.23 L531.37,1040.46 L531.84,1037.71 L532.30,1034.97 L532.77,1032.25 L533.24,1029.55 L533.71,1026.88 L534.17,1024.23 L534.64,1021.61 L535.11,1019.02 L535.58,1016.47 L536.04,1013.95 L536.51,1011.47 L536.98,1009.03 L537.45,1006.64 L537.92,1004.30 L538.38,1002.00 L538.85,999.76 L539.32,997.57 L539.79,995.44 L540.25,993.37 L540.72,991.36 L541.19,989.42 L541.66,987.54 L542.12,985.73 L542.59,983.99 L543.06,982.33 L543.53,980.73 L544.00,979.22 L544.46,977.79 L544.93,976.43 L545.40,975.16 L545.87,973.97 L546.33,972.87 L546.80,971.85 L547.27,970.92 L547.74,970.08 L548.20,969.33 L548.67,968.66 L549.14,968.09 L549.61,967.62 L550.08,967.23 L550.54,966.94 L551.01,966.74 L551.48,966.64 L551.95,966.63 L552.41,966.72 L552.88,966.92 L553.35,967.21 L553.82,967.60 L554.28,968.09 L554.75,968.68 L555.22,969.36 L555.69,970.13 L556.16,971.00 L556.62,971.96 L557.09,973.00 L557.56,974.13 L558.03,975.35 L558.49,976.65 L558.96,978.03 L559.43,979.48 L559.90,981.01 L560.36,982.62 L560.83,984.29 L561.30,986.04 L561.77,987.84 L562.24,989.72 L562.70,991.65 L563.17,993.64 L563.64,995.69 L564.11,997.78 L564.57,999.93 L565.04,1002.13 L565.51,1004.37 L565.98,1006.65 L566.44,1008.97 L566.91,1011.33 L567.38,1013.73 L567.85,1016.15 L568.32,1018.60 L568.78,1021.08 L569.25,1023.59 L569.72,1026.11 L570.19,1028.66 L570.65,1031.22 L571.12,1033.79 L571.59,1036.38 L572.06,1038.98 L572.53,1041.58 L572.99,1044.19 L573.46,1046.80 L573.93,1049.41 L574.40,1052.02 L574.86,1054.63 L575.33,1057.23 L575.80,1059.82 L576.27,1062.41 L576.73,1064.99 L577.20,1067.55 L577.67,1070.10 L578.14,1072.63 L578.61,1075.15 L579.07,1077.65 L579.54,1080.13 L580.01,1082.59 L580.48,1085.03 L580.94,1087.44 L581.41,1089.83 L581.88,1092.20 L582.35,1094.53 L582.81,1096.85 L583.28,1099.13 L583.75,1101.38 L584.22,1103.61 L584.69,1105.80 L585.15,1107.96 L585.62,1110.10 L586.09,1112.20 L586.56,1114.26 L587.02,1116.30 L587.49,1118.30 L587.96,1120.27 L588.43,1122.20 L588.89,1124.10 L589.36,1125.97 L589.83,1127.80 L590.30,1129.60 L590.77,1131.36 L591.23,1133.09 L591.70,1134.78 L592.17,1136.44 L592.64,1138.07 L593.10,1139.66 L593.57,1141.22 L594.04,1142.74 L594.51,1144.23 L594.97,1145.68 L595.44,1147.11 L595.91,1148.50 L596.38,1149.85 L596.85,1151.18 L597.31,1152.47 L597.78,1153.73 L598.25,1154.96 L598.72,1156.16 L599.18,1157.33 L599.65,1158.47 L600.12,1159.58 L600.59,1160.66 L601.05,1161.71 L601.52,1162.73 L601.99,1163.72 L602.46,1164.69 L602.93,1165.63 L603.39,1166.54 L603.86,1167.43 L604.33,1168.30 L604.80,1169.13 L605.26,1169.95 L605.73,1170.74 L606.20,1171.50 L606.67,1172.24 L607.13,1172.96 L607.60,1173.66 L608.07,1174.34 L608.54,1175.00 L609.01,1175.63 L609.47,1176.25 L609.94,1176.84 L610.41,1177.42 L610.88,1177.98 L611.34,1178.52 L611.81,1179.04 L612.28,1179.55 L612.75,1180.04 L613.21,1180.51 L613.68,1180.97 L614.15,1181.41 L614.62,1181.83 L615.09,1182.24 L615.55,1182.64 L616.02,1183.03 L616.49,1183.40 L616.96,1183.75 L617.42,1184.10 L617.89,1184.43 L618.36,1184.75 L618.83,1185.06 L619.30,1185.36 L619.76,1185.64 L620.23,1185.92 L620.70,1186.19 L621.17,1186.44 L621.63,1186.69 L622.10,1186.93 L622.57,1187.16" fill="none" stroke="#0A7A43" stroke-width="1.45" stroke-linejoin="round" />
<path d="M168.90,1192.50 L169.37,1192.50 L169.84,1192.50 L170.30,1192.50 L170.77,1192.50 L171.24,1192.50 L171.71,1192.50 L172.17,1192.50 L172.64,1192.50 L173.11,1192.50 L173.58,1192.50 L174.04,1192.50 L174.51,1192.50 L174.98,1192.50 L175.45,1192.50 L175.92,1192.50 L176.38,1192.50 L176.85,1192.50 L177.32,1192.50 L177.79,1192.50 L178.25,1192.50 L178.72,1192.50 L179.19,1192.50 L179.66,1192.50 L180.12,1192.50 L180.59,1192.50 L181.06,1192.50 L181.53,1192.50 L182.00,1192.50 L182.46,1192.50 L182.93,1192.50 L183.40,1192.50 L183.87,1192.50 L184.33,1192.50 L184.80,1192.50 L185.27,1192.50 L185.74,1192.50 L186.20,1192.50 L186.67,1192.50 L187.14,1192.50 L187.61,1192.50 L188.08,1192.50 L188.54,1192.50 L189.01,1192.50 L189.48,1192.50 L189.95,1192.50 L190.41,1192.50 L190.88,1192.50 L191.35,1192.50 L191.82,1192.50 L192.28,1192.50 L192.75,1192.50 L193.22,1192.50 L193.69,1192.50 L194.16,1192.50 L194.62,1192.50 L195.09,1192.50 L195.56,1192.50 L196.03,1192.50 L196.49,1192.50 L196.96,1192.50 L197.43,1192.50 L197.90,1192.50 L198.37,1192.50 L198.83,1192.50 L199.30,1192.50 L199.77,1192.50 L200.24,1192.50 L200.70,1192.50 L201.17,1192.50 L201.64,1192.50 L202.11,1192.50 L202.57,1192.50 L203.04,1192.50 L203.51,1192.50 L203.98,1192.50 L204.45,1192.50 L204.91,1192.50 L205.38,1192.50 L205.85,1192.50 L206.32,1192.50 L206.78,1192.50 L207.25,1192.50 L207.72,1192.50 L208.19,1192.50 L208.65,1192.50 L209.12,1192.50 L209.59,1192.50 L210.06,1192.50 L210.53,1192.50 L210.99,1192.50 L211.46,1192.50 L211.93,1192.50 L212.40,1192.50 L212.86,1192.50 L213.33,1192.50 L213.80,1192.50 L214.27,1192.50 L214.73,1192.50 L215.20,1192.50 L215.67,1192.50 L216.14,1192.50 L216.61,1192.50 L217.07,1192.50 L217.54,1192.50 L218.01,1192.50 L218.48,1192.50 L218.94,1192.50 L219.41,1192.50 L219.88,1192.50 L220.35,1192.50 L220.81,1192.50 L221.28,1192.50 L221.75,1192.50 L222.22,1192.50 L222.69,1192.50 L223.15,1192.50 L223.62,1192.50 L224.09,1192.50 L224.56,1192.50 L225.02,1192.50 L225.49,1192.50 L225.96,1192.50 L226.43,1192.50 L226.89,1192.50 L227.36,1192.50 L227.83,1192.50 L228.30,1192.50 L228.77,1192.50 L229.23,1192.50 L229.70,1192.50 L230.17,1192.50 L230.64,1192.50 L231.10,1192.50 L231.57,1192.50 L232.04,1192.50 L232.51,1192.50 L232.97,1192.50 L233.44,1192.50 L233.91,1192.50 L234.38,1192.50 L234.85,1192.50 L235.31,1192.50 L235.78,1192.50 L236.25,1192.50 L236.72,1192.50 L237.18,1192.50 L237.65,1192.50 L238.12,1192.50 L238.59,1192.50 L239.06,1192.50 L239.52,1192.50 L239.99,1192.50 L240.46,1192.50 L240.93,1192.50 L241.39,1192.50 L241.86,1192.50 L242.33,1192.50 L242.80,1192.50 L243.26,1192.50 L243.73,1192.50 L244.20,1192.50 L244.67,1192.50 L245.14,1192.50 L245.60,1192.50 L246.07,1192.50 L246.54,1192.50 L247.01,1192.50 L247.47,1192.50 L247.94,1192.50 L248.41,1192.50 L248.88,1192.50 L249.34,1192.50 L249.81,1192.50 L250.28,1192.50 L250.75,1192.50 L251.22,1192.50 L251.68,1192.50 L252.15,1192.50 L252.62,1192.50 L253.09,1192.50 L253.55,1192.50 L254.02,1192.50 L254.49,1192.50 L254.96,1192.50 L255.42,1192.50 L255.89,1192.50 L256.36,1192.50 L256.83,1192.50 L257.30,1192.50 L257.76,1192.50 L258.23,1192.50 L258.70,1192.50 L259.17,1192.50 L259.63,1192.50 L260.10,1192.50 L260.57,1192.50 L261.04,1192.50 L261.50,1192.50 L261.97,1192.50 L262.44,1192.50 L262.91,1192.50 L263.38,1192.50 L263.84,1192.50 L264.31,1192.50 L264.78,1192.50 L265.25,1192.50 L265.71,1192.50 L266.18,1192.50 L266.65,1192.50 L267.12,1192.50 L267.58,1192.50 L268.05,1192.50 L268.52,1192.50 L268.99,1192.50 L269.46,1192.50 L269.92,1192.50 L270.39,1192.50 L270.86,1192.50 L271.33,1192.50 L271.79,1192.50 L272.26,1192.50 L272.73,1192.50 L273.20,1192.50 L273.66,1192.50 L274.13,1192.50 L274.60,1192.50 L275.07,1192.50 L275.54,1192.50 L276.00,1192.50 L276.47,1192.50 L276.94,1192.50 L277.41,1192.50 L277.87,1192.50 L278.34,1192.50 L278.81,1192.50 L279.28,1192.50 L279.74,1192.50 L280.21,1192.50 L280.68,1192.50 L281.15,1192.50 L281.62,1192.50 L282.08,1192.50 L282.55,1192.50 L283.02,1192.50 L283.49,1192.50 L283.95,1192.50 L284.42,1192.50 L284.89,1192.50 L285.36,1192.50 L285.82,1192.50 L286.29,1192.50 L286.76,1192.50 L287.23,1192.50 L287.70,1192.50 L288.16,1192.50 L288.63,1192.50 L289.10,1192.50 L289.57,1192.50 L290.03,1192.50 L290.50,1192.50 L290.97,1192.50 L291.44,1192.50 L291.91,1192.50 L292.37,1192.50 L292.84,1192.50 L293.31,1192.50 L293.78,1192.50 L294.24,1192.50 L294.71,1192.50 L295.18,1192.50 L295.65,1192.49 L296.11,1192.49 L296.58,1192.49 L297.05,1192.49 L297.52,1192.49 L297.99,1192.49 L298.45,1192.49 L298.92,1192.49 L299.39,1192.49 L299.86,1192.49 L300.32,1192.49 L300.79,1192.49 L301.26,1192.48 L301.73,1192.48 L302.19,1192.48 L302.66,1192.48 L303.13,1192.48 L303.60,1192.48 L304.07,1192.47 L304.53,1192.47 L305.00,1192.47 L305.47,1192.46 L305.94,1192.46 L306.40,1192.46 L306.87,1192.45 L307.34,1192.45 L307.81,1192.45 L308.27,1192.44 L308.74,1192.44 L309.21,1192.43 L309.68,1192.42 L310.15,1192.42 L310.61,1192.41 L311.08,1192.40 L311.55,1192.39 L312.02,1192.38 L312.48,1192.37 L312.95,1192.36 L313.42,1192.35 L313.89,1192.34 L314.35,1192.33 L314.82,1192.31 L315.29,1192.30 L315.76,1192.28 L316.23,1192.26 L316.69,1192.24 L317.16,1192.22 L317.63,1192.20 L318.10,1192.18 L318.56,1192.15 L319.03,1192.13 L319.50,1192.10 L319.97,1192.07 L320.43,1192.03 L320.90,1192.00 L321.37,1191.96 L321.84,1191.92 L322.31,1191.88 L322.77,1191.83 L323.24,1191.78 L323.71,1191.73 L324.18,1191.67 L324.64,1191.61 L325.11,1191.55 L325.58,1191.48 L326.05,1191.41 L326.51,1191.34 L326.98,1191.25 L327.45,1191.17 L327.92,1191.08 L328.39,1190.98 L328.85,1190.88 L329.32,1190.77 L329.79,1190.65 L330.26,1190.53 L330.72,1190.40 L331.19,1190.26 L331.66,1190.12 L332.13,1189.96 L332.60,1189.80 L333.06,1189.63 L333.53,1189.45 L334.00,1189.26 L334.47,1189.06 L334.93,1188.85 L335.40,1188.63 L335.87,1188.39 L336.34,1188.15 L336.80,1187.89 L337.27,1187.61 L337.74,1187.33 L338.21,1187.03 L338.68,1186.71 L339.14,1186.38 L339.61,1186.03 L340.08,1185.67 L340.55,1185.29 L341.01,1184.89 L341.48,1184.48 L341.95,1184.04 L342.42,1183.59 L342.88,1183.11 L343.35,1182.62 L343.82,1182.10 L344.29,1181.56 L344.76,1181.00 L345.22,1180.41 L345.69,1179.80 L346.16,1179.17 L346.63,1178.51 L347.09,1177.82 L347.56,1177.11 L348.03,1176.37 L348.50,1175.60 L348.96,1174.81 L349.43,1173.98 L349.90,1173.13 L350.37,1172.24 L350.84,1171.32 L351.30,1170.38 L351.77,1169.40 L352.24,1168.39 L352.71,1167.34 L353.17,1166.26 L353.64,1165.15 L354.11,1164.00 L354.58,1162.82 L355.04,1161.61 L355.51,1160.36 L355.98,1159.07 L356.45,1157.75 L356.92,1156.39 L357.38,1154.99 L357.85,1153.56 L358.32,1152.10 L358.79,1150.59 L359.25,1149.05 L359.72,1147.48 L360.19,1145.86 L360.66,1144.22 L361.12,1142.53 L361.59,1140.82 L362.06,1139.06 L362.53,1137.27 L363.00,1135.45 L363.46,1133.60 L363.93,1131.71 L364.40,1129.79 L364.87,1127.84 L365.33,1125.85 L365.80,1123.84 L366.27,1121.80 L366.74,1119.73 L367.20,1117.64 L367.67,1115.52 L368.14,1113.37 L368.61,1111.21 L369.08,1109.02 L369.54,1106.81 L370.01,1104.58 L370.48,1102.33 L370.95,1100.07 L371.41,1097.80 L371.88,1095.51 L372.35,1093.22 L372.82,1090.91 L373.28,1088.60 L373.75,1086.28 L374.22,1083.96 L374.69,1081.65 L375.16,1079.33 L375.62,1077.01 L376.09,1074.71 L376.56,1072.41 L377.03,1070.12 L377.49,1067.84 L377.96,1065.58 L378.43,1063.34 L378.90,1061.12 L379.37,1058.92 L379.83,1056.74 L380.30,1054.59 L380.77,1052.47 L381.24,1050.38 L381.70,1048.33 L382.17,1046.31 L382.64,1044.33 L383.11,1042.39 L383.57,1040.50 L384.04,1038.65 L384.51,1036.85 L384.98,1035.10 L385.45,1033.40 L385.91,1031.76 L386.38,1030.17 L386.85,1028.64 L387.32,1027.18 L387.78,1025.77 L388.25,1024.43 L388.72,1023.15 L389.19,1021.95 L389.65,1020.81 L390.12,1019.74 L390.59,1018.74 L391.06,1017.82 L391.53,1016.97 L391.99,1016.20 L392.46,1015.50 L392.93,1014.89 L393.40,1014.35 L393.86,1013.89 L394.33,1013.51 L394.80,1013.21 L395.27,1012.99 L395.73,1012.85 L396.20,1012.79 L396.67,1012.82 L397.14,1012.92 L397.61,1013.11 L398.07,1013.38 L398.54,1013.73 L399.01,1014.15 L399.48,1014.66 L399.94,1015.25 L400.41,1015.91 L400.88,1016.65 L401.35,1017.47 L401.81,1018.37 L402.28,1019.33 L402.75,1020.37 L403.22,1021.48 L403.69,1022.66 L404.15,1023.91 L404.62,1025.23 L405.09,1026.61 L405.56,1028.05 L406.02,1029.55 L406.49,1031.12 L406.96,1032.74 L407.43,1034.42 L407.89,1036.14 L408.36,1037.93 L408.83,1039.75 L409.30,1041.63 L409.77,1043.55 L410.23,1045.51 L410.70,1047.52 L411.17,1049.56 L411.64,1051.63 L412.10,1053.74 L412.57,1055.88 L413.04,1058.04 L413.51,1060.23 L413.97,1062.45 L414.44,1064.68 L414.91,1066.94 L415.38,1069.21 L415.85,1071.49 L416.31,1073.79 L416.78,1076.09 L417.25,1078.40 L417.72,1080.72 L418.18,1083.04 L418.65,1085.36 L419.12,1087.67 L419.59,1089.99 L420.05,1092.29 L420.52,1094.59 L420.99,1096.89 L421.46,1099.16 L421.93,1101.43 L422.39,1103.68 L422.86,1105.92 L423.33,1108.13 L423.80,1110.33 L424.26,1112.51 L424.73,1114.66 L425.20,1116.79 L425.67,1118.90 L426.13,1120.98 L426.60,1123.03 L427.07,1125.05 L427.54,1127.05 L428.01,1129.01 L428.47,1130.94 L428.94,1132.85 L429.41,1134.71 L429.88,1136.55 L430.34,1138.35 L430.81,1140.12 L431.28,1141.85 L431.75,1143.55 L432.22,1145.21 L432.68,1146.84 L433.15,1148.43 L433.62,1149.98 L434.09,1151.50 L434.55,1152.98 L435.02,1154.43 L435.49,1155.83 L435.96,1157.21 L436.42,1158.54 L436.89,1159.84 L437.36,1161.11 L437.83,1162.34 L438.30,1163.53 L438.76,1164.69 L439.23,1165.82 L439.70,1166.91 L440.17,1167.97 L440.63,1168.99 L441.10,1169.99 L441.57,1170.95 L442.04,1171.88 L442.50,1172.77 L442.97,1173.64 L443.44,1174.48 L443.91,1175.28 L444.38,1176.06 L444.84,1176.81 L445.31,1177.54 L445.78,1178.23 L446.25,1178.90 L446.71,1179.55 L447.18,1180.17 L447.65,1180.76 L448.12,1181.33 L448.58,1181.88 L449.05,1182.40 L449.52,1182.91 L449.99,1183.39 L450.46,1183.85 L450.92,1184.29 L451.39,1184.72 L451.86,1185.12 L452.33,1185.51 L452.79,1185.88 L453.26,1186.23 L453.73,1186.56 L454.20,1186.88 L454.66,1187.19 L455.13,1187.48 L455.60,1187.75 L456.07,1188.01 L456.54,1188.26 L457.00,1188.50 L457.47,1188.72 L457.94,1188.94 L458.41,1189.14 L458.87,1189.33 L459.34,1189.51 L459.81,1189.68 L460.28,1189.84 L460.74,1189.99 L461.21,1190.14 L461.68,1190.27 L462.15,1190.40 L462.62,1190.51 L463.08,1190.63 L463.55,1190.73 L464.02,1190.83 L464.49,1190.92 L464.95,1191.00 L465.42,1191.08 L465.89,1191.15 L466.36,1191.22 L466.82,1191.28 L467.29,1191.34 L467.76,1191.39 L468.23,1191.43 L468.70,1191.47 L469.16,1191.51 L469.63,1191.54 L470.10,1191.57 L470.57,1191.59 L471.03,1191.61 L471.50,1191.62 L471.97,1191.63 L472.44,1191.64 L472.90,1191.64 L473.37,1191.64 L473.84,1191.63 L474.31,1191.62 L474.78,1191.61 L475.24,1191.59 L475.71,1191.57 L476.18,1191.54 L476.65,1191.51 L477.11,1191.47 L477.58,1191.43 L478.05,1191.39 L478.52,1191.34 L478.99,1191.29 L479.45,1191.23 L479.92,1191.17 L480.39,1191.10 L480.86,1191.02 L481.32,1190.94 L481.79,1190.86 L482.26,1190.77 L482.73,1190.67 L483.19,1190.57 L483.66,1190.46 L484.13,1190.34 L484.60,1190.21 L485.07,1190.08 L485.53,1189.94 L486.00,1189.80 L486.47,1189.64 L486.94,1189.48 L487.40,1189.30 L487.87,1189.12 L488.34,1188.93 L488.81,1188.72 L489.27,1188.51 L489.74,1188.28 L490.21,1188.05 L490.68,1187.80 L491.15,1187.54 L491.61,1187.27 L492.08,1186.98 L492.55,1186.68 L493.02,1186.37 L493.48,1186.04 L493.95,1185.69 L494.42,1185.33 L494.89,1184.96 L495.35,1184.56 L495.82,1184.15 L496.29,1183.73 L496.76,1183.28 L497.23,1182.81 L497.69,1182.33 L498.16,1181.82 L498.63,1181.29 L499.10,1180.74 L499.56,1180.17 L500.03,1179.58 L500.50,1178.96 L500.97,1178.32 L501.43,1177.65 L501.90,1176.96 L502.37,1176.24 L502.84,1175.50 L503.31,1174.73 L503.77,1173.93 L504.24,1173.10 L504.71,1172.24 L505.18,1171.35 L505.64,1170.44 L506.11,1169.49 L506.58,1168.51 L507.05,1167.49 L507.51,1166.45 L507.98,1165.37 L508.45,1164.26 L508.92,1163.11 L509.39,1161.93 L509.85,1160.71 L510.32,1159.46 L510.79,1158.17 L511.26,1156.85 L511.72,1155.49 L512.19,1154.09 L512.66,1152.65 L513.13,1151.18 L513.59,1149.66 L514.06,1148.11 L514.53,1146.52 L515.00,1144.90 L515.47,1143.23 L515.93,1141.53 L516.40,1139.78 L516.87,1138.00 L517.34,1136.18 L517.80,1134.32 L518.27,1132.42 L518.74,1130.48 L519.21,1128.51 L519.67,1126.50 L520.14,1124.45 L520.61,1122.36 L521.08,1120.24 L521.55,1118.09 L522.01,1115.89 L522.48,1113.67 L522.95,1111.41 L523.42,1109.12 L523.88,1106.79 L524.35,1104.44 L524.82,1102.05 L525.29,1099.64 L525.76,1097.20 L526.22,1094.73 L526.69,1092.24 L527.16,1089.72 L527.63,1087.18 L528.09,1084.62 L528.56,1082.04 L529.03,1079.44 L529.50,1076.82 L529.96,1074.19 L530.43,1071.55 L530.90,1068.89 L531.37,1066.22 L531.84,1063.55 L532.30,1060.87 L532.77,1058.19 L533.24,1055.50 L533.71,1052.81 L534.17,1050.13 L534.64,1047.45 L535.11,1044.78 L535.58,1042.11 L536.04,1039.46 L536.51,1036.82 L536.98,1034.19 L537.45,1031.58 L537.92,1029.00 L538.38,1026.43 L538.85,1023.89 L539.32,1021.37 L539.79,1018.89 L540.25,1016.44 L540.72,1014.02 L541.19,1011.63 L541.66,1009.29 L542.12,1006.98 L542.59,1004.72 L543.06,1002.51 L543.53,1000.34 L544.00,998.23 L544.46,996.16 L544.93,994.15 L545.40,992.20 L545.87,990.30 L546.33,988.46 L546.80,986.69 L547.27,984.98 L547.74,983.34 L548.20,981.77 L548.67,980.26 L549.14,978.83 L549.61,977.47 L550.08,976.19 L550.54,974.98 L551.01,973.84 L551.48,972.79 L551.95,971.82 L552.41,970.93 L552.88,970.11 L553.35,969.39 L553.82,968.74 L554.28,968.18 L554.75,967.71 L555.22,967.32 L555.69,967.01 L556.16,966.80 L556.62,966.67 L557.09,966.62 L557.56,966.70 L558.03,966.92 L558.49,967.29 L558.96,967.80 L559.43,968.45 L559.90,969.22 L560.36,970.13 L560.83,971.16 L561.30,972.31 L561.77,973.57 L562.24,974.95 L562.70,976.43 L563.17,978.01 L563.64,979.69 L564.11,981.46 L564.57,983.31 L565.04,985.25 L565.51,987.26 L565.98,989.35 L566.44,991.50 L566.91,993.72 L567.38,996.00 L567.85,998.33 L568.32,1000.71 L568.78,1003.14 L569.25,1005.61 L569.72,1008.11 L570.19,1010.65 L570.65,1013.22 L571.12,1015.82 L571.59,1018.44 L572.06,1021.08 L572.53,1023.74 L572.99,1026.41 L573.46,1029.08 L573.93,1031.77 L574.40,1034.46 L574.86,1037.15 L575.33,1039.84 L575.80,1042.52 L576.27,1045.20 L576.73,1047.87 L577.20,1050.53 L577.67,1053.17 L578.14,1055.80 L578.61,1058.42 L579.07,1061.02 L579.54,1063.59 L580.01,1066.15 L580.48,1068.68 L580.94,1071.19 L581.41,1073.67 L581.88,1076.13 L582.35,1078.55 L582.81,1080.96 L583.28,1083.33 L583.75,1085.67 L584.22,1087.98 L584.69,1090.26 L585.15,1092.50 L585.62,1094.72 L586.09,1096.90 L586.56,1099.05 L587.02,1101.16 L587.49,1103.24 L587.96,1105.29 L588.43,1107.30 L588.89,1109.28 L589.36,1111.22 L589.83,1113.13 L590.30,1115.00 L590.77,1116.84 L591.23,1118.65 L591.70,1120.42 L592.17,1122.16 L592.64,1123.86 L593.10,1125.53 L593.57,1127.17 L594.04,1128.77 L594.51,1130.34 L594.97,1131.88 L595.44,1133.39 L595.91,1134.86 L596.38,1136.30 L596.85,1137.71 L597.31,1139.09 L597.78,1140.44 L598.25,1141.76 L598.72,1143.05 L599.18,1144.32 L599.65,1145.55 L600.12,1146.75 L600.59,1147.93 L601.05,1149.08 L601.52,1150.20 L601.99,1151.30 L602.46,1152.37 L602.93,1153.41 L603.39,1154.43 L603.86,1155.43 L604.33,1156.40 L604.80,1157.35 L605.26,1158.27 L605.73,1159.17 L606.20,1160.05 L606.67,1160.91 L607.13,1161.75 L607.60,1162.56 L608.07,1163.36 L608.54,1164.13 L609.01,1164.89 L609.47,1165.62 L609.94,1166.34 L610.41,1167.04 L610.88,1167.72 L611.34,1168.38 L611.81,1169.03 L612.28,1169.66 L612.75,1170.27 L613.21,1170.87 L613.68,1171.45 L614.15,1172.02 L614.62,1172.57 L615.09,1173.11 L615.55,1173.63 L616.02,1174.14 L616.49,1174.63 L616.96,1175.12 L617.42,1175.58 L617.89,1176.04 L618.36,1176.49 L618.83,1176.92 L619.30,1177.34 L619.76,1177.75 L620.23,1178.15 L620.70,1178.54 L621.17,1178.91 L621.63,1179.28 L622.10,1179.64 L622.57,1179.99" fill="none" stroke="#0A7A43" stroke-width="1.45" stroke-linejoin="round" />
<text transform="translate(5.50,32.3) scale(1.0500,1)" font-size="40" fill="#1a1a1a" stroke="#1a1a1a" stroke-width="0.3">A</text>
<text transform="translate(3.67,223.4) scale(0.9773,1)" font-size="40" fill="#1a1a1a" stroke="#1a1a1a" stroke-width="0.3">B</text>
<text transform="translate(3.18,573.6) scale(1.0120,1)" font-size="40" fill="#1a1a1a" stroke="#1a1a1a" stroke-width="0.3">C</text>
<text transform="translate(2.28,953.4) scale(0.9750,1)" font-size="40" fill="#1a1a1a" stroke="#1a1a1a" stroke-width="0.3">D</text>
<text transform="translate(179.40,40) scale(1.0307,1)" font-size="25.5" fill="#1a1a1a" stroke="#1a1a1a" stroke-width="0.3">Tag: H-2TMR</text>
<text transform="translate(407.90,40) scale(1.0349,1)" font-size="25.5" fill="#1a1a1a" stroke="#1a1a1a" stroke-width="0.3">Target: GAGAAGGA</text>
<text transform="translate(357.25,124.2) scale(1.0512,1)" font-size="25.5" fill="#1a1a1a" stroke="#1a1a1a" stroke-width="0.3">24.4 kb</text>
<text transform="translate(519.99,124.2) scale(1.0496,1)" font-size="25.5" fill="#1a1a1a" stroke="#1a1a1a" stroke-width="0.3">41.6 kb</text>
<text transform="translate(163.39,147.1) scale(1.0083,1)" font-size="25.5" fill="#1a1a1a" stroke="#1a1a1a" stroke-width="0.3">0</text>
<text transform="translate(91.28,168.6) scale(1.0540,1)" font-size="25.5" fill="#1a1a1a" stroke="#1a1a1a" stroke-width="0.3"><tspan font-size="27" font-family='"Liberation Serif", "DejaVu Serif", serif'>λ</tspan>DNA</text>
<text transform="translate(632.30,168.6) scale(1.0223,1)" font-size="25.5" fill="#1a1a1a" stroke="#1a1a1a" stroke-width="0.3">48.5kb</text>
<text transform="translate(73.52,226.4) scale(1.0240,1)" font-size="25.5" fill="#1a1a1a" stroke="#1a1a1a" stroke-width="0.3">150</text>
<text transform="translate(73.52,310.3) scale(1.0240,1)" font-size="25.5" fill="#1a1a1a" stroke="#1a1a1a" stroke-width="0.3">100</text>
<text transform="translate(87.57,394.7) scale(1.0346,1)" font-size="25.5" fill="#1a1a1a" stroke="#1a1a1a" stroke-width="0.3">50</text>
<text transform="translate(102.07,480.6) scale(1.0333,1)" font-size="25.5" fill="#1a1a1a" stroke="#1a1a1a" stroke-width="0.3">0</text>
<text transform="translate(255.45,512) scale(1.0500,1)" font-size="25.5" fill="#1a1a1a" stroke="#1a1a1a" stroke-width="0.3">0</text>
<text transform="translate(536.53,512) scale(0.9600,1)" font-size="25.5" fill="#1a1a1a" stroke="#1a1a1a" stroke-width="0.3">1</text>
<text transform="translate(337.98,534.1) scale(1.0609,1)" font-size="25.5" fill="#1a1a1a" stroke="#1a1a1a" stroke-width="0.3">Time (ms)</text>
<text transform="translate(378.12,221.3) scale(1.0757,1)" font-size="25.5" fill="#F04A30" stroke="#F04A30" stroke-width="0.3">CM</text>
<text transform="translate(63.5,433.30) rotate(-90) scale(1.0476,1)" font-size="25.5" fill="#1a1a1a" stroke="#1a1a1a" stroke-width="0.3">Photon Counts</text>
<text transform="translate(86.11,575.2) scale(1.0885,1)" font-size="25.5" fill="#1a1a1a" stroke="#1a1a1a" stroke-width="0.3">75</text>
<text transform="translate(86.11,660.3) scale(1.0885,1)" font-size="25.5" fill="#1a1a1a" stroke="#1a1a1a" stroke-width="0.3">50</text>
<text transform="translate(86.11,744.7) scale(1.0885,1)" font-size="25.5" fill="#1a1a1a" stroke="#1a1a1a" stroke-width="0.3">25</text>
<text transform="translate(102.07,828.5) scale(1.0333,1)" font-size="25.5" fill="#1a1a1a" stroke="#1a1a1a" stroke-width="0.3">0</text>
<text transform="translate(170.27,862.6) scale(1.0314,1)" font-size="25.5" fill="#1a1a1a" stroke="#1a1a1a" stroke-width="0.3">-10</text>
<text transform="translate(282.44,862.6) scale(1.0571,1)" font-size="25.5" fill="#1a1a1a" stroke="#1a1a1a" stroke-width="0.3">-5</text>
<text transform="translate(395.45,862.6) scale(1.0500,1)" font-size="25.5" fill="#1a1a1a" stroke="#1a1a1a" stroke-width="0.3">0</text>
<text transform="translate(499.08,862.6) scale(1.0250,1)" font-size="25.5" fill="#1a1a1a" stroke="#1a1a1a" stroke-width="0.3">5</text>
<text transform="translate(594.45,862.6) scale(1.0055,1)" font-size="25.5" fill="#1a1a1a" stroke="#1a1a1a" stroke-width="0.3">10</text>
<text transform="translate(264.99,894) scale(1.0538,1)" font-size="25.5" fill="#1a1a1a" stroke="#1a1a1a" stroke-width="0.3">Distance from CM (<tspan font-size="27" font-family='"Liberation Serif", "DejaVu Serif", serif'>μ</tspan>m)</text>
<text transform="translate(63.5,774.34) rotate(-90) scale(1.0366,1)" font-size="25.5" fill="#1a1a1a" stroke="#1a1a1a" stroke-width="0.3">Occurrences</text>
<text transform="translate(71.77,976.3) scale(1.0496,1)" font-size="25.5" fill="#1a1a1a" stroke="#1a1a1a" stroke-width="0.3">100</text>
<text transform="translate(86.14,1033) scale(1.0615,1)" font-size="25.5" fill="#1a1a1a" stroke="#1a1a1a" stroke-width="0.3">75</text>
<text transform="translate(86.14,1089.3) scale(1.0615,1)" font-size="25.5" fill="#1a1a1a" stroke="#1a1a1a" stroke-width="0.3">50</text>
<text transform="translate(86.14,1145.1) scale(1.0615,1)" font-size="25.5" fill="#1a1a1a" stroke="#1a1a1a" stroke-width="0.3">25</text>
<text transform="translate(101.14,1200.5) scale(1.0583,1)" font-size="25.5" fill="#1a1a1a" stroke="#1a1a1a" stroke-width="0.3">0</text>
<text transform="translate(162.28,1240.6) scale(1.0250,1)" font-size="25.5" fill="#1a1a1a" stroke="#1a1a1a" stroke-width="0.3">0</text>
<text transform="translate(247.24,1240.6) scale(0.9616,1)" font-size="25.5" fill="#1a1a1a" stroke="#1a1a1a" stroke-width="0.3">10</text>
<text transform="translate(340.82,1240.6) scale(1.0769,1)" font-size="25.5" fill="#1a1a1a" stroke="#1a1a1a" stroke-width="0.3">20</text>
<text transform="translate(435.02,1240.6) scale(1.0769,1)" font-size="25.5" fill="#1a1a1a" stroke="#1a1a1a" stroke-width="0.3">30</text>
<text transform="translate(528.28,1240.6) scale(1.0600,1)" font-size="25.5" fill="#1a1a1a" stroke="#1a1a1a" stroke-width="0.3">40</text>
<text transform="translate(621.94,1240.6) scale(1.0577,1)" font-size="25.5" fill="#1a1a1a" stroke="#1a1a1a" stroke-width="0.3">50</text>
<text transform="translate(296.71,1270) scale(1.0449,1)" font-size="25.5" fill="#1a1a1a" stroke="#1a1a1a" stroke-width="0.3">DNA Position (kb)</text>
<text transform="translate(60.3,1185.24) rotate(-90) scale(1.0450,1)" font-size="25.5" fill="#1a1a1a" stroke="#1a1a1a" stroke-width="0.3">Occurrences (a.u.)</text>
<text transform="translate(401.55,934.6) scale(1.0521,1)" font-size="25.5" fill="#1a1a1a" stroke="#1a1a1a" stroke-width="0.3">5.78±0.27<tspan font-size="27" font-family='"Liberation Serif", "DejaVu Serif", serif'>μ</tspan>m</text>
</svg>
</body></html>
